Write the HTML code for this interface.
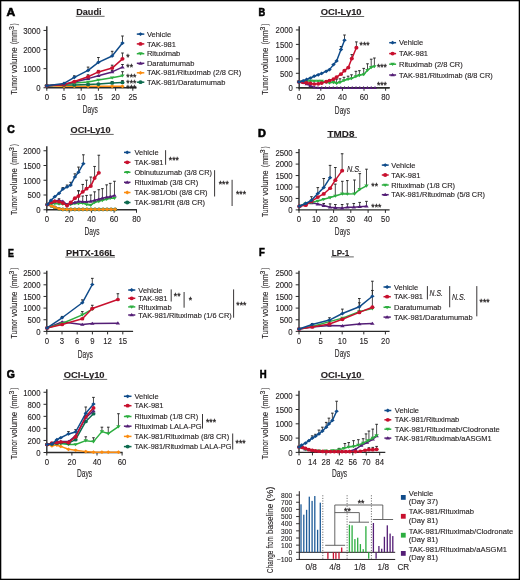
<!DOCTYPE html>
<html><head><meta charset="utf-8"><style>
html,body{margin:0;padding:0;background:#fff;}
svg{display:block;will-change:transform;}
text{font-family:"Liberation Sans", sans-serif;stroke:#231f20;stroke-width:0.12px;}
</style></head><body>
<svg width="520" height="580" viewBox="0 0 520 580">
<rect x="0.65" y="0.65" width="518.7" height="578.7" fill="#fff" stroke="#000" stroke-width="1.3"/>
<text x="6.60" y="15.90" font-size="11.2" text-anchor="start" font-weight="bold" font-style="normal" fill="#000" textLength="8.70" lengthAdjust="spacingAndGlyphs" style="stroke:#000;stroke-width:0.6px">A</text>
<text x="76.20" y="15.40" font-size="9.0" text-anchor="start" font-weight="bold" font-style="normal" fill="#231f20" textLength="25.30" lengthAdjust="spacingAndGlyphs" >Daudi</text>
<line x1="75.80" y1="16.30" x2="104.60" y2="16.30" stroke="#555" stroke-width="0.9" />
<line x1="46.80" y1="26.20" x2="46.80" y2="88.45" stroke="#2b2b2b" stroke-width="1.4" />
<line x1="46.10" y1="87.75" x2="136.60" y2="87.75" stroke="#2b2b2b" stroke-width="1.4" />
<line x1="43.50" y1="87.75" x2="46.80" y2="87.75" stroke="#2b2b2b" stroke-width="1.0" />
<text x="40.50" y="91.05" font-size="8.6" text-anchor="end" font-weight="normal" font-style="normal" fill="#231f20" textLength="4.33" lengthAdjust="spacingAndGlyphs" >0</text>
<line x1="43.50" y1="68.65" x2="46.80" y2="68.65" stroke="#2b2b2b" stroke-width="1.0" />
<text x="40.50" y="71.95" font-size="8.6" text-anchor="end" font-weight="normal" font-style="normal" fill="#231f20" textLength="17.32" lengthAdjust="spacingAndGlyphs" >1000</text>
<line x1="43.50" y1="49.55" x2="46.80" y2="49.55" stroke="#2b2b2b" stroke-width="1.0" />
<text x="40.50" y="52.85" font-size="8.6" text-anchor="end" font-weight="normal" font-style="normal" fill="#231f20" textLength="17.32" lengthAdjust="spacingAndGlyphs" >2000</text>
<line x1="43.50" y1="30.45" x2="46.80" y2="30.45" stroke="#2b2b2b" stroke-width="1.0" />
<text x="40.50" y="33.75" font-size="8.6" text-anchor="end" font-weight="normal" font-style="normal" fill="#231f20" textLength="17.32" lengthAdjust="spacingAndGlyphs" >3000</text>
<line x1="46.80" y1="87.75" x2="46.80" y2="90.75" stroke="#2b2b2b" stroke-width="1.0" />
<text x="46.80" y="100.05" font-size="8.6" text-anchor="middle" font-weight="normal" font-style="normal" fill="#231f20" textLength="4.33" lengthAdjust="spacingAndGlyphs" >0</text>
<line x1="64.00" y1="87.75" x2="64.00" y2="90.75" stroke="#2b2b2b" stroke-width="1.0" />
<text x="64.00" y="100.05" font-size="8.6" text-anchor="middle" font-weight="normal" font-style="normal" fill="#231f20" textLength="4.33" lengthAdjust="spacingAndGlyphs" >5</text>
<line x1="81.20" y1="87.75" x2="81.20" y2="90.75" stroke="#2b2b2b" stroke-width="1.0" />
<text x="81.20" y="100.05" font-size="8.6" text-anchor="middle" font-weight="normal" font-style="normal" fill="#231f20" textLength="8.66" lengthAdjust="spacingAndGlyphs" >10</text>
<line x1="98.40" y1="87.75" x2="98.40" y2="90.75" stroke="#2b2b2b" stroke-width="1.0" />
<text x="98.40" y="100.05" font-size="8.6" text-anchor="middle" font-weight="normal" font-style="normal" fill="#231f20" textLength="8.66" lengthAdjust="spacingAndGlyphs" >15</text>
<line x1="115.60" y1="87.75" x2="115.60" y2="90.75" stroke="#2b2b2b" stroke-width="1.0" />
<text x="115.60" y="100.05" font-size="8.6" text-anchor="middle" font-weight="normal" font-style="normal" fill="#231f20" textLength="8.66" lengthAdjust="spacingAndGlyphs" >20</text>
<line x1="132.80" y1="87.75" x2="132.80" y2="90.75" stroke="#2b2b2b" stroke-width="1.0" />
<text x="132.80" y="100.05" font-size="8.6" text-anchor="middle" font-weight="normal" font-style="normal" fill="#231f20" textLength="8.66" lengthAdjust="spacingAndGlyphs" >25</text>
<text transform="translate(17.00,94.60) rotate(-90)" font-size="9.4" fill="#231f20" textLength="19.57" lengthAdjust="spacingAndGlyphs">Tumor</text>
<text transform="translate(17.00,73.13) rotate(-90)" font-size="9.4" fill="#231f20" textLength="25.76" lengthAdjust="spacingAndGlyphs">volume</text>
<text transform="translate(17.00,44.27) rotate(-90)" font-size="9.4" fill="#231f20" textLength="14.18" lengthAdjust="spacingAndGlyphs">(mm</text>
<text transform="translate(13.80,30.09) rotate(-90)" font-size="7.0" fill="#231f20" textLength="3.90" lengthAdjust="spacingAndGlyphs">3</text>
<text transform="translate(17.00,25.20) rotate(-90)" font-size="9.4" fill="#231f20" textLength="1.80" lengthAdjust="spacingAndGlyphs">)</text>
<text x="90.30" y="113.00" font-size="10.2" text-anchor="middle" font-weight="normal" font-style="normal" fill="#231f20" textLength="15.10" lengthAdjust="spacingAndGlyphs" >Days</text>
<polyline points="46.80,85.77 64.00,86.35 74.32,86.35 88.08,86.35 98.40,86.35 112.16,86.35 122.48,86.35" fill="none" stroke="#fb8c10" stroke-width="1.5" stroke-linejoin="round"/>
<path d="M44.58,85.77 L46.80,83.92 L49.02,85.77 L46.80,87.62Z" fill="#fb8c10"/>
<path d="M61.78,86.35 L64.00,84.50 L66.22,86.35 L64.00,88.20Z" fill="#fb8c10"/>
<path d="M72.10,86.35 L74.32,84.50 L76.54,86.35 L74.32,88.20Z" fill="#fb8c10"/>
<path d="M85.86,86.35 L88.08,84.50 L90.30,86.35 L88.08,88.20Z" fill="#fb8c10"/>
<path d="M96.18,86.35 L98.40,84.50 L100.62,86.35 L98.40,88.20Z" fill="#fb8c10"/>
<path d="M109.94,86.35 L112.16,84.50 L114.38,86.35 L112.16,88.20Z" fill="#fb8c10"/>
<path d="M120.26,86.35 L122.48,84.50 L124.70,86.35 L122.48,88.20Z" fill="#fb8c10"/>
<line x1="112.16" y1="81.50" x2="112.16" y2="82.88" stroke="#2a2a2a" stroke-width="0.85" />
<line x1="110.86" y1="81.50" x2="113.46" y2="81.50" stroke="#2a2a2a" stroke-width="1.0" />
<line x1="122.48" y1="80.60" x2="122.48" y2="82.50" stroke="#2a2a2a" stroke-width="0.85" />
<line x1="121.18" y1="80.60" x2="123.78" y2="80.60" stroke="#2a2a2a" stroke-width="1.0" />
<polyline points="46.80,85.77 64.00,85.00 74.32,85.00 88.08,84.42 98.40,84.04 112.16,82.88 122.48,82.50" fill="none" stroke="#0d6b4f" stroke-width="1.5" stroke-linejoin="round"/>
<ellipse cx="46.80" cy="85.77" rx="2.04" ry="1.85" fill="#0d6b4f"/>
<ellipse cx="64.00" cy="85.00" rx="2.04" ry="1.85" fill="#0d6b4f"/>
<ellipse cx="74.32" cy="85.00" rx="2.04" ry="1.85" fill="#0d6b4f"/>
<ellipse cx="88.08" cy="84.42" rx="2.04" ry="1.85" fill="#0d6b4f"/>
<ellipse cx="98.40" cy="84.04" rx="2.04" ry="1.85" fill="#0d6b4f"/>
<ellipse cx="112.16" cy="82.88" rx="2.04" ry="1.85" fill="#0d6b4f"/>
<ellipse cx="122.48" cy="82.50" rx="2.04" ry="1.85" fill="#0d6b4f"/>
<line x1="122.48" y1="71.70" x2="122.48" y2="75.77" stroke="#2a2a2a" stroke-width="0.85" />
<line x1="121.18" y1="71.70" x2="123.78" y2="71.70" stroke="#2a2a2a" stroke-width="1.0" />
<polyline points="46.80,85.77 64.00,84.42 74.32,83.08 88.08,81.92 98.40,80.00 112.16,77.69 122.48,75.77" fill="none" stroke="#2dae40" stroke-width="1.5" stroke-linejoin="round"/>
<path d="M44.58,84.47 L49.02,84.47 L46.80,87.62Z" fill="#2dae40"/>
<path d="M61.78,83.13 L66.22,83.13 L64.00,86.27Z" fill="#2dae40"/>
<path d="M72.10,81.78 L76.54,81.78 L74.32,84.93Z" fill="#2dae40"/>
<path d="M85.86,80.63 L90.30,80.63 L88.08,83.77Z" fill="#2dae40"/>
<path d="M96.18,78.70 L100.62,78.70 L98.40,81.85Z" fill="#2dae40"/>
<path d="M109.94,76.40 L114.38,76.40 L112.16,79.54Z" fill="#2dae40"/>
<path d="M120.26,74.47 L124.70,74.47 L122.48,77.62Z" fill="#2dae40"/>
<line x1="112.16" y1="70.40" x2="112.16" y2="71.92" stroke="#2a2a2a" stroke-width="0.85" />
<line x1="110.86" y1="70.40" x2="113.46" y2="70.40" stroke="#2a2a2a" stroke-width="1.0" />
<line x1="122.48" y1="64.50" x2="122.48" y2="67.12" stroke="#2a2a2a" stroke-width="0.85" />
<line x1="121.18" y1="64.50" x2="123.78" y2="64.50" stroke="#2a2a2a" stroke-width="1.0" />
<polyline points="46.80,85.77 64.00,84.42 74.32,81.92 88.08,78.65 98.40,75.77 112.16,71.92 122.48,67.12" fill="none" stroke="#541e76" stroke-width="1.5" stroke-linejoin="round"/>
<path d="M44.58,87.06 L49.02,87.06 L46.80,83.92Z" fill="#541e76"/>
<path d="M61.78,85.72 L66.22,85.72 L64.00,82.57Z" fill="#541e76"/>
<path d="M72.10,83.22 L76.54,83.22 L74.32,80.07Z" fill="#541e76"/>
<path d="M85.86,79.95 L90.30,79.95 L88.08,76.80Z" fill="#541e76"/>
<path d="M96.18,77.06 L100.62,77.06 L98.40,73.92Z" fill="#541e76"/>
<path d="M109.94,73.22 L114.38,73.22 L112.16,70.07Z" fill="#541e76"/>
<path d="M120.26,68.41 L124.70,68.41 L122.48,65.27Z" fill="#541e76"/>
<line x1="88.08" y1="74.80" x2="88.08" y2="76.73" stroke="#2a2a2a" stroke-width="0.85" />
<line x1="86.78" y1="74.80" x2="89.38" y2="74.80" stroke="#2a2a2a" stroke-width="1.0" />
<line x1="98.40" y1="70.40" x2="98.40" y2="71.92" stroke="#2a2a2a" stroke-width="0.85" />
<line x1="97.10" y1="70.40" x2="99.70" y2="70.40" stroke="#2a2a2a" stroke-width="1.0" />
<line x1="112.16" y1="65.20" x2="112.16" y2="68.08" stroke="#2a2a2a" stroke-width="0.85" />
<line x1="110.86" y1="65.20" x2="113.46" y2="65.20" stroke="#2a2a2a" stroke-width="1.0" />
<line x1="122.48" y1="53.00" x2="122.48" y2="58.85" stroke="#2a2a2a" stroke-width="0.85" />
<line x1="121.18" y1="53.00" x2="123.78" y2="53.00" stroke="#2a2a2a" stroke-width="1.0" />
<polyline points="46.80,85.77 64.00,84.42 74.32,81.54 88.08,76.73 98.40,71.92 112.16,68.08 122.48,58.85" fill="none" stroke="#c8102e" stroke-width="1.5" stroke-linejoin="round"/>
<ellipse cx="46.80" cy="85.77" rx="2.04" ry="1.85" fill="#c8102e"/>
<ellipse cx="64.00" cy="84.42" rx="2.04" ry="1.85" fill="#c8102e"/>
<ellipse cx="74.32" cy="81.54" rx="2.04" ry="1.85" fill="#c8102e"/>
<ellipse cx="88.08" cy="76.73" rx="2.04" ry="1.85" fill="#c8102e"/>
<ellipse cx="98.40" cy="71.92" rx="2.04" ry="1.85" fill="#c8102e"/>
<ellipse cx="112.16" cy="68.08" rx="2.04" ry="1.85" fill="#c8102e"/>
<ellipse cx="122.48" cy="58.85" rx="2.04" ry="1.85" fill="#c8102e"/>
<line x1="74.32" y1="75.80" x2="74.32" y2="77.31" stroke="#2a2a2a" stroke-width="0.85" />
<line x1="73.02" y1="75.80" x2="75.62" y2="75.80" stroke="#2a2a2a" stroke-width="1.0" />
<line x1="88.08" y1="67.10" x2="88.08" y2="70.38" stroke="#2a2a2a" stroke-width="0.85" />
<line x1="86.78" y1="67.10" x2="89.38" y2="67.10" stroke="#2a2a2a" stroke-width="1.0" />
<line x1="98.40" y1="57.50" x2="98.40" y2="62.31" stroke="#2a2a2a" stroke-width="0.85" />
<line x1="97.10" y1="57.50" x2="99.70" y2="57.50" stroke="#2a2a2a" stroke-width="1.0" />
<line x1="112.16" y1="51.30" x2="112.16" y2="55.96" stroke="#2a2a2a" stroke-width="0.85" />
<line x1="110.86" y1="51.30" x2="113.46" y2="51.30" stroke="#2a2a2a" stroke-width="1.0" />
<line x1="122.48" y1="36.00" x2="122.48" y2="43.08" stroke="#2a2a2a" stroke-width="0.85" />
<line x1="121.18" y1="36.00" x2="123.78" y2="36.00" stroke="#2a2a2a" stroke-width="1.0" />
<polyline points="46.80,85.77 64.00,83.46 74.32,77.31 88.08,70.38 98.40,62.31 112.16,55.96 122.48,43.08" fill="none" stroke="#0f4b8a" stroke-width="1.5" stroke-linejoin="round"/>
<path d="M44.58,85.77 L46.80,83.92 L49.02,85.77 L46.80,87.62Z" fill="#0f4b8a"/>
<path d="M61.78,83.46 L64.00,81.61 L66.22,83.46 L64.00,85.31Z" fill="#0f4b8a"/>
<path d="M72.10,77.31 L74.32,75.46 L76.54,77.31 L74.32,79.16Z" fill="#0f4b8a"/>
<path d="M85.86,70.38 L88.08,68.53 L90.30,70.38 L88.08,72.23Z" fill="#0f4b8a"/>
<path d="M96.18,62.31 L98.40,60.46 L100.62,62.31 L98.40,64.16Z" fill="#0f4b8a"/>
<path d="M109.94,55.96 L112.16,54.11 L114.38,55.96 L112.16,57.81Z" fill="#0f4b8a"/>
<path d="M120.26,43.08 L122.48,41.23 L124.70,43.08 L122.48,44.93Z" fill="#0f4b8a"/>
<text x="126.30" y="60.47" font-size="8.6" text-anchor="start" font-weight="normal" font-style="normal" fill="#231f20" style="stroke-width:0.28px">*</text>
<text x="126.30" y="69.77" font-size="8.6" text-anchor="start" font-weight="normal" font-style="normal" fill="#231f20" style="stroke-width:0.28px">**</text>
<text x="126.30" y="79.77" font-size="8.6" text-anchor="start" font-weight="normal" font-style="normal" fill="#231f20" style="stroke-width:0.28px">***</text>
<text x="126.30" y="86.17" font-size="8.6" text-anchor="start" font-weight="normal" font-style="normal" fill="#231f20" style="stroke-width:0.28px">***</text>
<text x="126.30" y="91.27" font-size="8.6" text-anchor="start" font-weight="normal" font-style="normal" fill="#231f20" style="stroke-width:0.28px">***</text>
<line x1="136.80" y1="34.10" x2="144.30" y2="34.10" stroke="#0f4b8a" stroke-width="1.5" />
<path d="M138.22,34.10 L140.50,32.20 L142.78,34.10 L140.50,36.00Z" fill="#0f4b8a"/>
<text x="146.90" y="36.70" font-size="7.5" text-anchor="start" font-weight="normal" font-style="normal" fill="#231f20" >Vehicle</text>
<line x1="136.80" y1="43.90" x2="144.30" y2="43.90" stroke="#c8102e" stroke-width="1.5" />
<ellipse cx="140.50" cy="43.90" rx="2.09" ry="1.90" fill="#c8102e"/>
<text x="146.90" y="46.50" font-size="7.5" text-anchor="start" font-weight="normal" font-style="normal" fill="#231f20" >TAK-981</text>
<line x1="136.80" y1="53.70" x2="144.30" y2="53.70" stroke="#2dae40" stroke-width="1.5" />
<path d="M138.22,52.37 L142.78,52.37 L140.50,55.60Z" fill="#2dae40"/>
<text x="146.90" y="56.30" font-size="7.5" text-anchor="start" font-weight="normal" font-style="normal" fill="#231f20" >Rituximab</text>
<line x1="136.80" y1="63.30" x2="144.30" y2="63.30" stroke="#541e76" stroke-width="1.5" />
<path d="M138.22,64.63 L142.78,64.63 L140.50,61.40Z" fill="#541e76"/>
<text x="146.90" y="65.90" font-size="7.5" text-anchor="start" font-weight="normal" font-style="normal" fill="#231f20" >Daratumumab</text>
<line x1="136.80" y1="72.80" x2="144.30" y2="72.80" stroke="#fb8c10" stroke-width="1.5" />
<path d="M138.22,72.80 L140.50,70.90 L142.78,72.80 L140.50,74.70Z" fill="#fb8c10"/>
<text x="146.90" y="75.40" font-size="7.5" text-anchor="start" font-weight="normal" font-style="normal" fill="#231f20" textLength="94.30" lengthAdjust="spacingAndGlyphs" >TAK-981/Rituximab (2/8 CR)</text>
<line x1="136.80" y1="82.20" x2="144.30" y2="82.20" stroke="#0d6b4f" stroke-width="1.5" />
<ellipse cx="140.50" cy="82.20" rx="2.09" ry="1.90" fill="#0d6b4f"/>
<text x="146.90" y="84.80" font-size="7.5" text-anchor="start" font-weight="normal" font-style="normal" fill="#231f20" textLength="78.50" lengthAdjust="spacingAndGlyphs" >TAK-981/Daratumumab</text>
<text x="258.60" y="15.50" font-size="11.2" text-anchor="start" font-weight="bold" font-style="normal" fill="#000" textLength="6.70" lengthAdjust="spacingAndGlyphs" style="stroke:#000;stroke-width:0.6px">B</text>
<text x="320.80" y="15.10" font-size="9.0" text-anchor="start" font-weight="bold" font-style="normal" fill="#231f20" textLength="40.80" lengthAdjust="spacingAndGlyphs" >OCI-Ly10</text>
<line x1="320.10" y1="16.50" x2="364.20" y2="16.50" stroke="#555" stroke-width="0.9" />
<line x1="299.20" y1="26.30" x2="299.20" y2="88.45" stroke="#2b2b2b" stroke-width="1.4" />
<line x1="298.50" y1="87.75" x2="389.60" y2="87.75" stroke="#2b2b2b" stroke-width="1.4" />
<line x1="295.90" y1="87.75" x2="299.20" y2="87.75" stroke="#2b2b2b" stroke-width="1.0" />
<text x="292.90" y="91.05" font-size="8.6" text-anchor="end" font-weight="normal" font-style="normal" fill="#231f20" textLength="4.33" lengthAdjust="spacingAndGlyphs" >0</text>
<line x1="295.90" y1="73.30" x2="299.20" y2="73.30" stroke="#2b2b2b" stroke-width="1.0" />
<text x="292.90" y="76.60" font-size="8.6" text-anchor="end" font-weight="normal" font-style="normal" fill="#231f20" textLength="12.99" lengthAdjust="spacingAndGlyphs" >500</text>
<line x1="295.90" y1="58.85" x2="299.20" y2="58.85" stroke="#2b2b2b" stroke-width="1.0" />
<text x="292.90" y="62.15" font-size="8.6" text-anchor="end" font-weight="normal" font-style="normal" fill="#231f20" textLength="17.32" lengthAdjust="spacingAndGlyphs" >1000</text>
<line x1="295.90" y1="44.40" x2="299.20" y2="44.40" stroke="#2b2b2b" stroke-width="1.0" />
<text x="292.90" y="47.70" font-size="8.6" text-anchor="end" font-weight="normal" font-style="normal" fill="#231f20" textLength="17.32" lengthAdjust="spacingAndGlyphs" >1500</text>
<line x1="295.90" y1="29.95" x2="299.20" y2="29.95" stroke="#2b2b2b" stroke-width="1.0" />
<text x="292.90" y="33.25" font-size="8.6" text-anchor="end" font-weight="normal" font-style="normal" fill="#231f20" textLength="17.32" lengthAdjust="spacingAndGlyphs" >2000</text>
<line x1="299.20" y1="87.75" x2="299.20" y2="90.75" stroke="#2b2b2b" stroke-width="1.0" />
<text x="299.20" y="100.05" font-size="8.6" text-anchor="middle" font-weight="normal" font-style="normal" fill="#231f20" textLength="4.33" lengthAdjust="spacingAndGlyphs" >0</text>
<line x1="320.80" y1="87.75" x2="320.80" y2="90.75" stroke="#2b2b2b" stroke-width="1.0" />
<text x="320.80" y="100.05" font-size="8.6" text-anchor="middle" font-weight="normal" font-style="normal" fill="#231f20" textLength="8.66" lengthAdjust="spacingAndGlyphs" >20</text>
<line x1="342.40" y1="87.75" x2="342.40" y2="90.75" stroke="#2b2b2b" stroke-width="1.0" />
<text x="342.40" y="100.05" font-size="8.6" text-anchor="middle" font-weight="normal" font-style="normal" fill="#231f20" textLength="8.66" lengthAdjust="spacingAndGlyphs" >40</text>
<line x1="364.00" y1="87.75" x2="364.00" y2="90.75" stroke="#2b2b2b" stroke-width="1.0" />
<text x="364.00" y="100.05" font-size="8.6" text-anchor="middle" font-weight="normal" font-style="normal" fill="#231f20" textLength="8.66" lengthAdjust="spacingAndGlyphs" >60</text>
<line x1="385.60" y1="87.75" x2="385.60" y2="90.75" stroke="#2b2b2b" stroke-width="1.0" />
<text x="385.60" y="100.05" font-size="8.6" text-anchor="middle" font-weight="normal" font-style="normal" fill="#231f20" textLength="8.66" lengthAdjust="spacingAndGlyphs" >80</text>
<text transform="translate(268.00,94.70) rotate(-90)" font-size="9.4" fill="#231f20" textLength="19.49" lengthAdjust="spacingAndGlyphs">Tumor</text>
<text transform="translate(268.00,73.32) rotate(-90)" font-size="9.4" fill="#231f20" textLength="25.65" lengthAdjust="spacingAndGlyphs">volume</text>
<text transform="translate(268.00,44.58) rotate(-90)" font-size="9.4" fill="#231f20" textLength="14.12" lengthAdjust="spacingAndGlyphs">(mm</text>
<text transform="translate(264.80,30.46) rotate(-90)" font-size="7.0" fill="#231f20" textLength="3.88" lengthAdjust="spacingAndGlyphs">3</text>
<text transform="translate(268.00,25.59) rotate(-90)" font-size="9.4" fill="#231f20" textLength="1.79" lengthAdjust="spacingAndGlyphs">)</text>
<text x="342.40" y="113.60" font-size="10.2" text-anchor="middle" font-weight="normal" font-style="normal" fill="#231f20" textLength="15.10" lengthAdjust="spacingAndGlyphs" >Days</text>
<polyline points="298.90,81.90 303.20,82.80 306.60,84.00 310.40,85.70 314.20,87.30 318.00,87.75 321.80,87.75 325.60,87.75 329.40,87.75 333.20,87.75 337.00,87.75 340.80,87.75 344.60,87.75 348.40,87.75 352.20,87.75 356.00,87.75 359.80,87.75 363.60,87.75 367.40,87.75 371.20,87.75 375.00,87.75" fill="none" stroke="#541e76" stroke-width="1.4" stroke-linejoin="round"/>
<line x1="298.50" y1="87.75" x2="389.60" y2="87.75" stroke="#2b2b2b" stroke-width="1.4" />
<path d="M296.86,83.09 L300.94,83.09 L298.90,80.20Z" fill="#541e76"/>
<path d="M301.16,83.99 L305.24,83.99 L303.20,81.10Z" fill="#541e76"/>
<path d="M304.56,85.19 L308.64,85.19 L306.60,82.30Z" fill="#541e76"/>
<path d="M308.36,86.89 L312.44,86.89 L310.40,84.00Z" fill="#541e76"/>
<path d="M312.16,88.49 L316.24,88.49 L314.20,85.60Z" fill="#541e76"/>
<path d="M315.96,88.94 L320.04,88.94 L318.00,86.05Z" fill="#541e76"/>
<path d="M319.76,88.94 L323.84,88.94 L321.80,86.05Z" fill="#541e76"/>
<path d="M323.56,88.94 L327.64,88.94 L325.60,86.05Z" fill="#541e76"/>
<path d="M327.36,88.94 L331.44,88.94 L329.40,86.05Z" fill="#541e76"/>
<path d="M331.16,88.94 L335.24,88.94 L333.20,86.05Z" fill="#541e76"/>
<path d="M334.96,88.94 L339.04,88.94 L337.00,86.05Z" fill="#541e76"/>
<path d="M338.76,88.94 L342.84,88.94 L340.80,86.05Z" fill="#541e76"/>
<path d="M342.56,88.94 L346.64,88.94 L344.60,86.05Z" fill="#541e76"/>
<path d="M346.36,88.94 L350.44,88.94 L348.40,86.05Z" fill="#541e76"/>
<path d="M350.16,88.94 L354.24,88.94 L352.20,86.05Z" fill="#541e76"/>
<path d="M353.96,88.94 L358.04,88.94 L356.00,86.05Z" fill="#541e76"/>
<path d="M357.76,88.94 L361.84,88.94 L359.80,86.05Z" fill="#541e76"/>
<path d="M361.56,88.94 L365.64,88.94 L363.60,86.05Z" fill="#541e76"/>
<path d="M365.36,88.94 L369.44,88.94 L367.40,86.05Z" fill="#541e76"/>
<path d="M369.16,88.94 L373.24,88.94 L371.20,86.05Z" fill="#541e76"/>
<path d="M372.96,88.94 L377.04,88.94 L375.00,86.05Z" fill="#541e76"/>
<line x1="326.20" y1="80.50" x2="326.20" y2="82.30" stroke="#2a2a2a" stroke-width="0.85" />
<line x1="324.90" y1="80.50" x2="327.50" y2="80.50" stroke="#2a2a2a" stroke-width="1.0" />
<line x1="329.50" y1="80.30" x2="329.50" y2="82.80" stroke="#2a2a2a" stroke-width="0.85" />
<line x1="328.20" y1="80.30" x2="330.80" y2="80.30" stroke="#2a2a2a" stroke-width="1.0" />
<line x1="333.50" y1="79.60" x2="333.50" y2="82.30" stroke="#2a2a2a" stroke-width="0.85" />
<line x1="332.20" y1="79.60" x2="334.80" y2="79.60" stroke="#2a2a2a" stroke-width="1.0" />
<line x1="336.60" y1="79.20" x2="336.60" y2="83.40" stroke="#2a2a2a" stroke-width="0.85" />
<line x1="335.30" y1="79.20" x2="337.90" y2="79.20" stroke="#2a2a2a" stroke-width="1.0" />
<line x1="340.00" y1="78.80" x2="340.00" y2="82.30" stroke="#2a2a2a" stroke-width="0.85" />
<line x1="338.70" y1="78.80" x2="341.30" y2="78.80" stroke="#2a2a2a" stroke-width="1.0" />
<line x1="344.00" y1="77.30" x2="344.00" y2="80.50" stroke="#2a2a2a" stroke-width="0.85" />
<line x1="342.70" y1="77.30" x2="345.30" y2="77.30" stroke="#2a2a2a" stroke-width="1.0" />
<line x1="348.10" y1="76.20" x2="348.10" y2="79.20" stroke="#2a2a2a" stroke-width="0.85" />
<line x1="346.80" y1="76.20" x2="349.40" y2="76.20" stroke="#2a2a2a" stroke-width="1.0" />
<line x1="351.50" y1="74.80" x2="351.50" y2="78.50" stroke="#2a2a2a" stroke-width="0.85" />
<line x1="350.20" y1="74.80" x2="352.80" y2="74.80" stroke="#2a2a2a" stroke-width="1.0" />
<line x1="355.90" y1="71.30" x2="355.90" y2="76.50" stroke="#2a2a2a" stroke-width="0.85" />
<line x1="354.60" y1="71.30" x2="357.20" y2="71.30" stroke="#2a2a2a" stroke-width="1.0" />
<line x1="359.40" y1="70.70" x2="359.40" y2="75.30" stroke="#2a2a2a" stroke-width="0.85" />
<line x1="358.10" y1="70.70" x2="360.70" y2="70.70" stroke="#2a2a2a" stroke-width="1.0" />
<line x1="363.70" y1="68.40" x2="363.70" y2="74.50" stroke="#2a2a2a" stroke-width="0.85" />
<line x1="362.40" y1="68.40" x2="365.00" y2="68.40" stroke="#2a2a2a" stroke-width="1.0" />
<line x1="367.50" y1="63.80" x2="367.50" y2="70.20" stroke="#2a2a2a" stroke-width="0.85" />
<line x1="366.20" y1="63.80" x2="368.80" y2="63.80" stroke="#2a2a2a" stroke-width="1.0" />
<line x1="371.20" y1="59.20" x2="371.20" y2="67.30" stroke="#2a2a2a" stroke-width="0.85" />
<line x1="369.90" y1="59.20" x2="372.50" y2="59.20" stroke="#2a2a2a" stroke-width="1.0" />
<line x1="374.40" y1="58.00" x2="374.40" y2="66.50" stroke="#2a2a2a" stroke-width="0.85" />
<line x1="373.10" y1="58.00" x2="375.70" y2="58.00" stroke="#2a2a2a" stroke-width="1.0" />
<polyline points="298.90,81.90 303.20,81.60 306.60,81.20 310.40,80.80 314.20,81.10 318.20,81.10 321.60,81.10 326.20,82.30 329.50,82.80 333.50,82.30 336.60,83.40 340.00,82.30 344.00,80.50 348.10,79.20 351.50,78.50 355.90,76.50 359.40,75.30 363.70,74.50 367.50,70.20 371.20,67.30 374.40,66.50" fill="none" stroke="#2dae40" stroke-width="1.5" stroke-linejoin="round"/>
<path d="M296.68,80.61 L301.12,80.61 L298.90,83.75Z" fill="#2dae40"/>
<path d="M300.98,80.30 L305.42,80.30 L303.20,83.45Z" fill="#2dae40"/>
<path d="M304.38,79.91 L308.82,79.91 L306.60,83.05Z" fill="#2dae40"/>
<path d="M308.18,79.50 L312.62,79.50 L310.40,82.65Z" fill="#2dae40"/>
<path d="M311.98,79.80 L316.42,79.80 L314.20,82.95Z" fill="#2dae40"/>
<path d="M315.98,79.80 L320.42,79.80 L318.20,82.95Z" fill="#2dae40"/>
<path d="M319.38,79.80 L323.82,79.80 L321.60,82.95Z" fill="#2dae40"/>
<path d="M323.98,81.00 L328.42,81.00 L326.20,84.15Z" fill="#2dae40"/>
<path d="M327.28,81.50 L331.72,81.50 L329.50,84.65Z" fill="#2dae40"/>
<path d="M331.28,81.00 L335.72,81.00 L333.50,84.15Z" fill="#2dae40"/>
<path d="M334.38,82.11 L338.82,82.11 L336.60,85.25Z" fill="#2dae40"/>
<path d="M337.78,81.00 L342.22,81.00 L340.00,84.15Z" fill="#2dae40"/>
<path d="M341.78,79.20 L346.22,79.20 L344.00,82.35Z" fill="#2dae40"/>
<path d="M345.88,77.91 L350.32,77.91 L348.10,81.05Z" fill="#2dae40"/>
<path d="M349.28,77.20 L353.72,77.20 L351.50,80.35Z" fill="#2dae40"/>
<path d="M353.68,75.20 L358.12,75.20 L355.90,78.35Z" fill="#2dae40"/>
<path d="M357.18,74.00 L361.62,74.00 L359.40,77.15Z" fill="#2dae40"/>
<path d="M361.48,73.20 L365.92,73.20 L363.70,76.35Z" fill="#2dae40"/>
<path d="M365.28,68.91 L369.72,68.91 L367.50,72.05Z" fill="#2dae40"/>
<path d="M368.98,66.00 L373.42,66.00 L371.20,69.15Z" fill="#2dae40"/>
<path d="M372.18,65.20 L376.62,65.20 L374.40,68.35Z" fill="#2dae40"/>
<line x1="351.80" y1="54.60" x2="351.80" y2="58.60" stroke="#2a2a2a" stroke-width="0.85" />
<line x1="350.50" y1="54.60" x2="353.10" y2="54.60" stroke="#2a2a2a" stroke-width="1.0" />
<line x1="356.40" y1="41.90" x2="356.40" y2="47.70" stroke="#2a2a2a" stroke-width="0.85" />
<line x1="355.10" y1="41.90" x2="357.70" y2="41.90" stroke="#2a2a2a" stroke-width="1.0" />
<polyline points="298.90,81.90 303.20,82.30 306.60,82.80 310.40,83.40 314.20,84.00 318.20,83.80 321.60,83.10 326.20,81.70 329.50,80.50 333.50,79.20 336.60,77.10 340.90,74.20 344.40,70.70 348.30,67.60 351.80,58.60 356.40,47.70" fill="none" stroke="#c8102e" stroke-width="1.5" stroke-linejoin="round"/>
<ellipse cx="298.90" cy="81.90" rx="2.04" ry="1.85" fill="#c8102e"/>
<ellipse cx="303.20" cy="82.30" rx="2.04" ry="1.85" fill="#c8102e"/>
<ellipse cx="306.60" cy="82.80" rx="2.04" ry="1.85" fill="#c8102e"/>
<ellipse cx="310.40" cy="83.40" rx="2.04" ry="1.85" fill="#c8102e"/>
<ellipse cx="314.20" cy="84.00" rx="2.04" ry="1.85" fill="#c8102e"/>
<ellipse cx="318.20" cy="83.80" rx="2.04" ry="1.85" fill="#c8102e"/>
<ellipse cx="321.60" cy="83.10" rx="2.04" ry="1.85" fill="#c8102e"/>
<ellipse cx="326.20" cy="81.70" rx="2.04" ry="1.85" fill="#c8102e"/>
<ellipse cx="329.50" cy="80.50" rx="2.04" ry="1.85" fill="#c8102e"/>
<ellipse cx="333.50" cy="79.20" rx="2.04" ry="1.85" fill="#c8102e"/>
<ellipse cx="336.60" cy="77.10" rx="2.04" ry="1.85" fill="#c8102e"/>
<ellipse cx="340.90" cy="74.20" rx="2.04" ry="1.85" fill="#c8102e"/>
<ellipse cx="344.40" cy="70.70" rx="2.04" ry="1.85" fill="#c8102e"/>
<ellipse cx="348.30" cy="67.60" rx="2.04" ry="1.85" fill="#c8102e"/>
<ellipse cx="351.80" cy="58.60" rx="2.04" ry="1.85" fill="#c8102e"/>
<ellipse cx="356.40" cy="47.70" rx="2.04" ry="1.85" fill="#c8102e"/>
<line x1="341.00" y1="46.50" x2="341.00" y2="49.60" stroke="#2a2a2a" stroke-width="0.85" />
<line x1="339.70" y1="46.50" x2="342.30" y2="46.50" stroke="#2a2a2a" stroke-width="1.0" />
<line x1="344.50" y1="35.00" x2="344.50" y2="40.20" stroke="#2a2a2a" stroke-width="0.85" />
<line x1="343.20" y1="35.00" x2="345.80" y2="35.00" stroke="#2a2a2a" stroke-width="1.0" />
<polyline points="298.90,81.90 303.20,80.80 306.60,79.40 310.40,78.00 314.20,76.20 318.20,74.80 321.60,73.40 326.20,71.30 329.50,69.60 333.50,64.60 336.60,60.90 341.00,49.60 344.50,40.20" fill="none" stroke="#0f4b8a" stroke-width="1.5" stroke-linejoin="round"/>
<path d="M296.68,81.90 L298.90,80.05 L301.12,81.90 L298.90,83.75Z" fill="#0f4b8a"/>
<path d="M300.98,80.80 L303.20,78.95 L305.42,80.80 L303.20,82.65Z" fill="#0f4b8a"/>
<path d="M304.38,79.40 L306.60,77.55 L308.82,79.40 L306.60,81.25Z" fill="#0f4b8a"/>
<path d="M308.18,78.00 L310.40,76.15 L312.62,78.00 L310.40,79.85Z" fill="#0f4b8a"/>
<path d="M311.98,76.20 L314.20,74.35 L316.42,76.20 L314.20,78.05Z" fill="#0f4b8a"/>
<path d="M315.98,74.80 L318.20,72.95 L320.42,74.80 L318.20,76.65Z" fill="#0f4b8a"/>
<path d="M319.38,73.40 L321.60,71.55 L323.82,73.40 L321.60,75.25Z" fill="#0f4b8a"/>
<path d="M323.98,71.30 L326.20,69.45 L328.42,71.30 L326.20,73.15Z" fill="#0f4b8a"/>
<path d="M327.28,69.60 L329.50,67.75 L331.72,69.60 L329.50,71.45Z" fill="#0f4b8a"/>
<path d="M331.28,64.60 L333.50,62.75 L335.72,64.60 L333.50,66.45Z" fill="#0f4b8a"/>
<path d="M334.38,60.90 L336.60,59.05 L338.82,60.90 L336.60,62.75Z" fill="#0f4b8a"/>
<path d="M338.78,49.60 L341.00,47.75 L343.22,49.60 L341.00,51.45Z" fill="#0f4b8a"/>
<path d="M342.28,40.20 L344.50,38.35 L346.72,40.20 L344.50,42.05Z" fill="#0f4b8a"/>
<text x="359.60" y="48.27" font-size="8.6" text-anchor="start" font-weight="normal" font-style="normal" fill="#231f20" style="stroke-width:0.28px">***</text>
<text x="376.90" y="70.27" font-size="8.6" text-anchor="start" font-weight="normal" font-style="normal" fill="#231f20" style="stroke-width:0.28px">***</text>
<text x="376.90" y="87.87" font-size="8.6" text-anchor="start" font-weight="normal" font-style="normal" fill="#231f20" style="stroke-width:0.28px">***</text>
<line x1="389.20" y1="42.70" x2="396.10" y2="42.70" stroke="#0f4b8a" stroke-width="1.5" />
<path d="M390.32,42.70 L392.60,40.80 L394.88,42.70 L392.60,44.60Z" fill="#0f4b8a"/>
<text x="399.00" y="45.30" font-size="7.5" text-anchor="start" font-weight="normal" font-style="normal" fill="#231f20" >Vehicle</text>
<line x1="389.20" y1="53.60" x2="396.10" y2="53.60" stroke="#c8102e" stroke-width="1.5" />
<ellipse cx="392.60" cy="53.60" rx="2.09" ry="1.90" fill="#c8102e"/>
<text x="399.00" y="56.20" font-size="7.5" text-anchor="start" font-weight="normal" font-style="normal" fill="#231f20" >TAK-981</text>
<line x1="389.20" y1="64.20" x2="396.10" y2="64.20" stroke="#2dae40" stroke-width="1.5" />
<path d="M390.32,62.87 L394.88,62.87 L392.60,66.10Z" fill="#2dae40"/>
<text x="399.00" y="66.80" font-size="7.5" text-anchor="start" font-weight="normal" font-style="normal" fill="#231f20" >Rituximab (2/8 CR)</text>
<line x1="389.20" y1="75.00" x2="396.10" y2="75.00" stroke="#541e76" stroke-width="1.5" />
<path d="M390.32,76.33 L394.88,76.33 L392.60,73.10Z" fill="#541e76"/>
<text x="399.00" y="77.60" font-size="7.5" text-anchor="start" font-weight="normal" font-style="normal" fill="#231f20" textLength="93.70" lengthAdjust="spacingAndGlyphs" >TAK-981/Rituximab (8/8 CR)</text>
<text x="7.20" y="133.40" font-size="11.2" text-anchor="start" font-weight="bold" font-style="normal" fill="#000" textLength="7.50" lengthAdjust="spacingAndGlyphs" style="stroke:#000;stroke-width:0.6px">C</text>
<text x="70.60" y="133.00" font-size="9.0" text-anchor="start" font-weight="bold" font-style="normal" fill="#231f20" textLength="40.00" lengthAdjust="spacingAndGlyphs" >OCI-Ly10</text>
<line x1="70.10" y1="134.40" x2="113.70" y2="134.40" stroke="#555" stroke-width="0.9" />
<line x1="46.80" y1="146.30" x2="46.80" y2="210.45" stroke="#2b2b2b" stroke-width="1.4" />
<line x1="46.10" y1="209.75" x2="136.90" y2="209.75" stroke="#2b2b2b" stroke-width="1.4" />
<line x1="43.50" y1="209.75" x2="46.80" y2="209.75" stroke="#2b2b2b" stroke-width="1.0" />
<text x="40.50" y="213.05" font-size="8.6" text-anchor="end" font-weight="normal" font-style="normal" fill="#231f20" textLength="4.33" lengthAdjust="spacingAndGlyphs" >0</text>
<line x1="43.50" y1="195.00" x2="46.80" y2="195.00" stroke="#2b2b2b" stroke-width="1.0" />
<text x="40.50" y="198.30" font-size="8.6" text-anchor="end" font-weight="normal" font-style="normal" fill="#231f20" textLength="12.99" lengthAdjust="spacingAndGlyphs" >500</text>
<line x1="43.50" y1="180.25" x2="46.80" y2="180.25" stroke="#2b2b2b" stroke-width="1.0" />
<text x="40.50" y="183.55" font-size="8.6" text-anchor="end" font-weight="normal" font-style="normal" fill="#231f20" textLength="17.32" lengthAdjust="spacingAndGlyphs" >1000</text>
<line x1="43.50" y1="165.50" x2="46.80" y2="165.50" stroke="#2b2b2b" stroke-width="1.0" />
<text x="40.50" y="168.80" font-size="8.6" text-anchor="end" font-weight="normal" font-style="normal" fill="#231f20" textLength="17.32" lengthAdjust="spacingAndGlyphs" >1500</text>
<line x1="43.50" y1="150.75" x2="46.80" y2="150.75" stroke="#2b2b2b" stroke-width="1.0" />
<text x="40.50" y="154.05" font-size="8.6" text-anchor="end" font-weight="normal" font-style="normal" fill="#231f20" textLength="17.32" lengthAdjust="spacingAndGlyphs" >2000</text>
<line x1="46.80" y1="209.75" x2="46.80" y2="212.75" stroke="#2b2b2b" stroke-width="1.0" />
<text x="46.80" y="222.05" font-size="8.6" text-anchor="middle" font-weight="normal" font-style="normal" fill="#231f20" textLength="4.33" lengthAdjust="spacingAndGlyphs" >0</text>
<line x1="69.20" y1="209.75" x2="69.20" y2="212.75" stroke="#2b2b2b" stroke-width="1.0" />
<text x="69.20" y="222.05" font-size="8.6" text-anchor="middle" font-weight="normal" font-style="normal" fill="#231f20" textLength="8.66" lengthAdjust="spacingAndGlyphs" >20</text>
<line x1="91.60" y1="209.75" x2="91.60" y2="212.75" stroke="#2b2b2b" stroke-width="1.0" />
<text x="91.60" y="222.05" font-size="8.6" text-anchor="middle" font-weight="normal" font-style="normal" fill="#231f20" textLength="8.66" lengthAdjust="spacingAndGlyphs" >40</text>
<line x1="114.10" y1="209.75" x2="114.10" y2="212.75" stroke="#2b2b2b" stroke-width="1.0" />
<text x="114.10" y="222.05" font-size="8.6" text-anchor="middle" font-weight="normal" font-style="normal" fill="#231f20" textLength="8.66" lengthAdjust="spacingAndGlyphs" >60</text>
<line x1="136.50" y1="209.75" x2="136.50" y2="212.75" stroke="#2b2b2b" stroke-width="1.0" />
<text x="136.50" y="222.05" font-size="8.6" text-anchor="middle" font-weight="normal" font-style="normal" fill="#231f20" textLength="8.66" lengthAdjust="spacingAndGlyphs" >80</text>
<text transform="translate(17.00,215.00) rotate(-90)" font-size="9.4" fill="#231f20" textLength="19.44" lengthAdjust="spacingAndGlyphs">Tumor</text>
<text transform="translate(17.00,193.68) rotate(-90)" font-size="9.4" fill="#231f20" textLength="25.58" lengthAdjust="spacingAndGlyphs">volume</text>
<text transform="translate(17.00,165.02) rotate(-90)" font-size="9.4" fill="#231f20" textLength="14.08" lengthAdjust="spacingAndGlyphs">(mm</text>
<text transform="translate(13.80,150.94) rotate(-90)" font-size="7.0" fill="#231f20" textLength="3.87" lengthAdjust="spacingAndGlyphs">3</text>
<text transform="translate(17.00,146.08) rotate(-90)" font-size="9.4" fill="#231f20" textLength="1.79" lengthAdjust="spacingAndGlyphs">)</text>
<text x="92.10" y="234.60" font-size="10.2" text-anchor="middle" font-weight="normal" font-style="normal" fill="#231f20" textLength="15.10" lengthAdjust="spacingAndGlyphs" >Days</text>
<polyline points="47.40,204.52 51.64,206.00 54.81,207.27 59.04,208.75 62.85,209.39 66.87,209.39 70.89,209.39 74.91,209.39 78.93,209.39 82.94,209.39 86.96,209.39 90.98,209.39 95.00,209.39 99.02,209.39 103.04,209.39 107.06,209.39 111.08,209.39 115.10,209.39" fill="none" stroke="#0d6b4f" stroke-width="1.5" stroke-linejoin="round"/>
<ellipse cx="47.40" cy="204.52" rx="2.04" ry="1.85" fill="#0d6b4f"/>
<ellipse cx="51.64" cy="206.00" rx="2.04" ry="1.85" fill="#0d6b4f"/>
<ellipse cx="54.81" cy="207.27" rx="2.04" ry="1.85" fill="#0d6b4f"/>
<ellipse cx="59.04" cy="208.75" rx="2.04" ry="1.85" fill="#0d6b4f"/>
<ellipse cx="62.85" cy="209.39" rx="2.04" ry="1.85" fill="#0d6b4f"/>
<ellipse cx="66.87" cy="209.39" rx="2.04" ry="1.85" fill="#0d6b4f"/>
<ellipse cx="70.89" cy="209.39" rx="2.04" ry="1.85" fill="#0d6b4f"/>
<ellipse cx="74.91" cy="209.39" rx="2.04" ry="1.85" fill="#0d6b4f"/>
<ellipse cx="78.93" cy="209.39" rx="2.04" ry="1.85" fill="#0d6b4f"/>
<ellipse cx="82.94" cy="209.39" rx="2.04" ry="1.85" fill="#0d6b4f"/>
<ellipse cx="86.96" cy="209.39" rx="2.04" ry="1.85" fill="#0d6b4f"/>
<ellipse cx="90.98" cy="209.39" rx="2.04" ry="1.85" fill="#0d6b4f"/>
<ellipse cx="95.00" cy="209.39" rx="2.04" ry="1.85" fill="#0d6b4f"/>
<ellipse cx="99.02" cy="209.39" rx="2.04" ry="1.85" fill="#0d6b4f"/>
<ellipse cx="103.04" cy="209.39" rx="2.04" ry="1.85" fill="#0d6b4f"/>
<ellipse cx="107.06" cy="209.39" rx="2.04" ry="1.85" fill="#0d6b4f"/>
<ellipse cx="111.08" cy="209.39" rx="2.04" ry="1.85" fill="#0d6b4f"/>
<ellipse cx="115.10" cy="209.39" rx="2.04" ry="1.85" fill="#0d6b4f"/>
<polyline points="47.40,204.52 51.64,206.00 54.81,207.27 59.04,208.75 62.85,209.39 66.87,209.39 70.89,209.39 74.91,209.39 78.93,209.39 82.94,209.39 86.96,209.39 90.98,209.39 95.00,209.39 99.02,209.39 103.04,209.39 107.06,209.39 111.08,209.39 115.10,209.39" fill="none" stroke="#fb8c10" stroke-width="1.5" stroke-linejoin="round"/>
<path d="M45.18,204.52 L47.40,202.67 L49.62,204.52 L47.40,206.37Z" fill="#fb8c10"/>
<path d="M49.42,206.00 L51.64,204.15 L53.86,206.00 L51.64,207.85Z" fill="#fb8c10"/>
<path d="M52.59,207.27 L54.81,205.42 L57.03,207.27 L54.81,209.12Z" fill="#fb8c10"/>
<path d="M56.82,208.75 L59.04,206.90 L61.26,208.75 L59.04,210.60Z" fill="#fb8c10"/>
<path d="M60.63,209.39 L62.85,207.54 L65.07,209.39 L62.85,211.24Z" fill="#fb8c10"/>
<path d="M64.65,209.39 L66.87,207.54 L69.09,209.39 L66.87,211.24Z" fill="#fb8c10"/>
<path d="M68.67,209.39 L70.89,207.54 L73.11,209.39 L70.89,211.24Z" fill="#fb8c10"/>
<path d="M72.69,209.39 L74.91,207.54 L77.13,209.39 L74.91,211.24Z" fill="#fb8c10"/>
<path d="M76.71,209.39 L78.93,207.54 L81.15,209.39 L78.93,211.24Z" fill="#fb8c10"/>
<path d="M80.72,209.39 L82.94,207.54 L85.16,209.39 L82.94,211.24Z" fill="#fb8c10"/>
<path d="M84.74,209.39 L86.96,207.54 L89.18,209.39 L86.96,211.24Z" fill="#fb8c10"/>
<path d="M88.76,209.39 L90.98,207.54 L93.20,209.39 L90.98,211.24Z" fill="#fb8c10"/>
<path d="M92.78,209.39 L95.00,207.54 L97.22,209.39 L95.00,211.24Z" fill="#fb8c10"/>
<path d="M96.80,209.39 L99.02,207.54 L101.24,209.39 L99.02,211.24Z" fill="#fb8c10"/>
<path d="M100.82,209.39 L103.04,207.54 L105.26,209.39 L103.04,211.24Z" fill="#fb8c10"/>
<path d="M104.84,209.39 L107.06,207.54 L109.28,209.39 L107.06,211.24Z" fill="#fb8c10"/>
<path d="M108.86,209.39 L111.08,207.54 L113.30,209.39 L111.08,211.24Z" fill="#fb8c10"/>
<path d="M112.88,209.39 L115.10,207.54 L117.32,209.39 L115.10,211.24Z" fill="#fb8c10"/>
<polyline points="47.40,204.52 51.64,203.47 54.81,203.47 59.04,203.89 62.85,204.10 67.08,204.52 70.67,204.52 74.91,203.47 78.50,203.47 82.73,203.04 86.54,204.52 90.77,205.16 94.58,202.41 98.81,201.35 102.41,200.29 106.64,199.23 110.23,198.18 114.47,198.18" fill="none" stroke="#2dae40" stroke-width="1.5" stroke-linejoin="round"/>
<path d="M45.18,203.23 L49.62,203.23 L47.40,206.37Z" fill="#2dae40"/>
<path d="M49.42,202.17 L53.86,202.17 L51.64,205.32Z" fill="#2dae40"/>
<path d="M52.59,202.17 L57.03,202.17 L54.81,205.32Z" fill="#2dae40"/>
<path d="M56.82,202.59 L61.26,202.59 L59.04,205.74Z" fill="#2dae40"/>
<path d="M60.63,202.80 L65.07,202.80 L62.85,205.95Z" fill="#2dae40"/>
<path d="M64.86,203.23 L69.30,203.23 L67.08,206.37Z" fill="#2dae40"/>
<path d="M68.45,203.23 L72.89,203.23 L70.67,206.37Z" fill="#2dae40"/>
<path d="M72.69,202.17 L77.13,202.17 L74.91,205.32Z" fill="#2dae40"/>
<path d="M76.28,202.17 L80.72,202.17 L78.50,205.32Z" fill="#2dae40"/>
<path d="M80.51,201.75 L84.95,201.75 L82.73,204.89Z" fill="#2dae40"/>
<path d="M84.32,203.23 L88.76,203.23 L86.54,206.37Z" fill="#2dae40"/>
<path d="M88.55,203.86 L92.99,203.86 L90.77,207.01Z" fill="#2dae40"/>
<path d="M92.36,201.11 L96.80,201.11 L94.58,204.26Z" fill="#2dae40"/>
<path d="M96.59,200.05 L101.03,200.05 L98.81,203.20Z" fill="#2dae40"/>
<path d="M100.19,199.00 L104.63,199.00 L102.41,202.14Z" fill="#2dae40"/>
<path d="M104.42,197.94 L108.86,197.94 L106.64,201.08Z" fill="#2dae40"/>
<path d="M108.01,196.88 L112.45,196.88 L110.23,200.03Z" fill="#2dae40"/>
<path d="M112.25,196.88 L116.69,196.88 L114.47,200.03Z" fill="#2dae40"/>
<line x1="59.04" y1="198.81" x2="59.04" y2="200.29" stroke="#2a2a2a" stroke-width="0.85" />
<line x1="57.74" y1="198.81" x2="60.34" y2="198.81" stroke="#2a2a2a" stroke-width="1.0" />
<line x1="78.50" y1="190.77" x2="78.50" y2="201.35" stroke="#2a2a2a" stroke-width="0.85" />
<line x1="77.20" y1="190.77" x2="79.80" y2="190.77" stroke="#2a2a2a" stroke-width="1.0" />
<line x1="82.73" y1="196.06" x2="82.73" y2="201.77" stroke="#2a2a2a" stroke-width="0.85" />
<line x1="81.43" y1="196.06" x2="84.03" y2="196.06" stroke="#2a2a2a" stroke-width="1.0" />
<line x1="86.54" y1="195.43" x2="86.54" y2="201.77" stroke="#2a2a2a" stroke-width="0.85" />
<line x1="85.24" y1="195.43" x2="87.84" y2="195.43" stroke="#2a2a2a" stroke-width="1.0" />
<line x1="90.77" y1="195.00" x2="90.77" y2="201.35" stroke="#2a2a2a" stroke-width="0.85" />
<line x1="89.47" y1="195.00" x2="92.07" y2="195.00" stroke="#2a2a2a" stroke-width="1.0" />
<line x1="94.58" y1="191.83" x2="94.58" y2="200.29" stroke="#2a2a2a" stroke-width="0.85" />
<line x1="93.28" y1="191.83" x2="95.88" y2="191.83" stroke="#2a2a2a" stroke-width="1.0" />
<line x1="98.81" y1="189.71" x2="98.81" y2="199.23" stroke="#2a2a2a" stroke-width="0.85" />
<line x1="97.51" y1="189.71" x2="100.11" y2="189.71" stroke="#2a2a2a" stroke-width="1.0" />
<line x1="102.41" y1="188.66" x2="102.41" y2="198.18" stroke="#2a2a2a" stroke-width="0.85" />
<line x1="101.11" y1="188.66" x2="103.71" y2="188.66" stroke="#2a2a2a" stroke-width="1.0" />
<line x1="106.64" y1="184.85" x2="106.64" y2="197.12" stroke="#2a2a2a" stroke-width="0.85" />
<line x1="105.34" y1="184.85" x2="107.94" y2="184.85" stroke="#2a2a2a" stroke-width="1.0" />
<line x1="110.23" y1="183.37" x2="110.23" y2="196.70" stroke="#2a2a2a" stroke-width="0.85" />
<line x1="108.93" y1="183.37" x2="111.53" y2="183.37" stroke="#2a2a2a" stroke-width="1.0" />
<line x1="114.47" y1="181.25" x2="114.47" y2="195.43" stroke="#2a2a2a" stroke-width="0.85" />
<line x1="113.17" y1="181.25" x2="115.77" y2="181.25" stroke="#2a2a2a" stroke-width="1.0" />
<polyline points="47.40,204.52 51.64,202.41 54.81,200.93 59.04,200.29 62.85,201.35 67.08,204.52 70.67,203.47 74.91,202.41 78.50,201.35 82.73,201.77 86.54,201.77 90.77,201.35 94.58,200.29 98.81,199.23 102.41,198.18 106.64,197.12 110.23,196.70 114.47,195.43" fill="none" stroke="#541e76" stroke-width="1.5" stroke-linejoin="round"/>
<path d="M45.18,205.82 L49.62,205.82 L47.40,202.67Z" fill="#541e76"/>
<path d="M49.42,203.70 L53.86,203.70 L51.64,200.56Z" fill="#541e76"/>
<path d="M52.59,202.22 L57.03,202.22 L54.81,199.08Z" fill="#541e76"/>
<path d="M56.82,201.59 L61.26,201.59 L59.04,198.44Z" fill="#541e76"/>
<path d="M60.63,202.64 L65.07,202.64 L62.85,199.50Z" fill="#541e76"/>
<path d="M64.86,205.82 L69.30,205.82 L67.08,202.67Z" fill="#541e76"/>
<path d="M68.45,204.76 L72.89,204.76 L70.67,201.62Z" fill="#541e76"/>
<path d="M72.69,203.70 L77.13,203.70 L74.91,200.56Z" fill="#541e76"/>
<path d="M76.28,202.64 L80.72,202.64 L78.50,199.50Z" fill="#541e76"/>
<path d="M80.51,203.07 L84.95,203.07 L82.73,199.92Z" fill="#541e76"/>
<path d="M84.32,203.07 L88.76,203.07 L86.54,199.92Z" fill="#541e76"/>
<path d="M88.55,202.64 L92.99,202.64 L90.77,199.50Z" fill="#541e76"/>
<path d="M92.36,201.59 L96.80,201.59 L94.58,198.44Z" fill="#541e76"/>
<path d="M96.59,200.53 L101.03,200.53 L98.81,197.38Z" fill="#541e76"/>
<path d="M100.19,199.47 L104.63,199.47 L102.41,196.33Z" fill="#541e76"/>
<path d="M104.42,198.41 L108.86,198.41 L106.64,195.27Z" fill="#541e76"/>
<path d="M108.01,197.99 L112.45,197.99 L110.23,194.85Z" fill="#541e76"/>
<path d="M112.25,196.72 L116.69,196.72 L114.47,193.58Z" fill="#541e76"/>
<line x1="78.50" y1="190.77" x2="78.50" y2="196.06" stroke="#2a2a2a" stroke-width="0.85" />
<line x1="77.20" y1="190.77" x2="79.80" y2="190.77" stroke="#2a2a2a" stroke-width="1.0" />
<line x1="82.73" y1="184.43" x2="82.73" y2="191.83" stroke="#2a2a2a" stroke-width="0.85" />
<line x1="81.43" y1="184.43" x2="84.03" y2="184.43" stroke="#2a2a2a" stroke-width="1.0" />
<line x1="86.54" y1="180.19" x2="86.54" y2="188.66" stroke="#2a2a2a" stroke-width="0.85" />
<line x1="85.24" y1="180.19" x2="87.84" y2="180.19" stroke="#2a2a2a" stroke-width="1.0" />
<line x1="90.77" y1="177.02" x2="90.77" y2="186.12" stroke="#2a2a2a" stroke-width="0.85" />
<line x1="89.47" y1="177.02" x2="92.07" y2="177.02" stroke="#2a2a2a" stroke-width="1.0" />
<line x1="94.58" y1="166.44" x2="94.58" y2="178.08" stroke="#2a2a2a" stroke-width="0.85" />
<line x1="93.28" y1="166.44" x2="95.88" y2="166.44" stroke="#2a2a2a" stroke-width="1.0" />
<line x1="98.81" y1="155.23" x2="98.81" y2="172.79" stroke="#2a2a2a" stroke-width="0.85" />
<line x1="97.51" y1="155.23" x2="100.11" y2="155.23" stroke="#2a2a2a" stroke-width="1.0" />
<polyline points="47.40,204.52 51.00,202.41 54.81,201.35 59.04,201.77 62.85,203.04 67.08,205.58 70.67,202.41 74.91,198.18 78.50,196.06 82.73,191.83 86.54,188.66 90.77,186.12 94.58,178.08 98.81,172.79" fill="none" stroke="#c8102e" stroke-width="1.5" stroke-linejoin="round"/>
<ellipse cx="47.40" cy="204.52" rx="2.04" ry="1.85" fill="#c8102e"/>
<ellipse cx="51.00" cy="202.41" rx="2.04" ry="1.85" fill="#c8102e"/>
<ellipse cx="54.81" cy="201.35" rx="2.04" ry="1.85" fill="#c8102e"/>
<ellipse cx="59.04" cy="201.77" rx="2.04" ry="1.85" fill="#c8102e"/>
<ellipse cx="62.85" cy="203.04" rx="2.04" ry="1.85" fill="#c8102e"/>
<ellipse cx="67.08" cy="205.58" rx="2.04" ry="1.85" fill="#c8102e"/>
<ellipse cx="70.67" cy="202.41" rx="2.04" ry="1.85" fill="#c8102e"/>
<ellipse cx="74.91" cy="198.18" rx="2.04" ry="1.85" fill="#c8102e"/>
<ellipse cx="78.50" cy="196.06" rx="2.04" ry="1.85" fill="#c8102e"/>
<ellipse cx="82.73" cy="191.83" rx="2.04" ry="1.85" fill="#c8102e"/>
<ellipse cx="86.54" cy="188.66" rx="2.04" ry="1.85" fill="#c8102e"/>
<ellipse cx="90.77" cy="186.12" rx="2.04" ry="1.85" fill="#c8102e"/>
<ellipse cx="94.58" cy="178.08" rx="2.04" ry="1.85" fill="#c8102e"/>
<ellipse cx="98.81" cy="172.79" rx="2.04" ry="1.85" fill="#c8102e"/>
<line x1="62.85" y1="187.60" x2="62.85" y2="189.08" stroke="#2a2a2a" stroke-width="0.85" />
<line x1="61.55" y1="187.60" x2="64.15" y2="187.60" stroke="#2a2a2a" stroke-width="1.0" />
<line x1="67.08" y1="185.06" x2="67.08" y2="186.96" stroke="#2a2a2a" stroke-width="0.85" />
<line x1="65.78" y1="185.06" x2="68.38" y2="185.06" stroke="#2a2a2a" stroke-width="1.0" />
<line x1="70.67" y1="182.31" x2="70.67" y2="185.06" stroke="#2a2a2a" stroke-width="0.85" />
<line x1="69.37" y1="182.31" x2="71.97" y2="182.31" stroke="#2a2a2a" stroke-width="1.0" />
<line x1="74.91" y1="173.85" x2="74.91" y2="177.02" stroke="#2a2a2a" stroke-width="0.85" />
<line x1="73.61" y1="173.85" x2="76.21" y2="173.85" stroke="#2a2a2a" stroke-width="1.0" />
<line x1="78.50" y1="167.08" x2="78.50" y2="172.16" stroke="#2a2a2a" stroke-width="0.85" />
<line x1="77.20" y1="167.08" x2="79.80" y2="167.08" stroke="#2a2a2a" stroke-width="1.0" />
<line x1="83.37" y1="154.81" x2="83.37" y2="163.69" stroke="#2a2a2a" stroke-width="0.85" />
<line x1="82.07" y1="154.81" x2="84.67" y2="154.81" stroke="#2a2a2a" stroke-width="1.0" />
<polyline points="47.40,204.52 51.00,200.29 54.81,196.70 59.04,193.31 62.85,189.08 67.08,186.96 70.67,185.06 74.91,177.02 78.50,172.16 83.37,163.69" fill="none" stroke="#0f4b8a" stroke-width="1.5" stroke-linejoin="round"/>
<path d="M45.18,204.52 L47.40,202.67 L49.62,204.52 L47.40,206.37Z" fill="#0f4b8a"/>
<path d="M48.78,200.29 L51.00,198.44 L53.22,200.29 L51.00,202.14Z" fill="#0f4b8a"/>
<path d="M52.59,196.70 L54.81,194.85 L57.03,196.70 L54.81,198.55Z" fill="#0f4b8a"/>
<path d="M56.82,193.31 L59.04,191.46 L61.26,193.31 L59.04,195.16Z" fill="#0f4b8a"/>
<path d="M60.63,189.08 L62.85,187.23 L65.07,189.08 L62.85,190.93Z" fill="#0f4b8a"/>
<path d="M64.86,186.96 L67.08,185.11 L69.30,186.96 L67.08,188.81Z" fill="#0f4b8a"/>
<path d="M68.45,185.06 L70.67,183.21 L72.89,185.06 L70.67,186.91Z" fill="#0f4b8a"/>
<path d="M72.69,177.02 L74.91,175.17 L77.13,177.02 L74.91,178.87Z" fill="#0f4b8a"/>
<path d="M76.28,172.16 L78.50,170.31 L80.72,172.16 L78.50,174.01Z" fill="#0f4b8a"/>
<path d="M81.15,163.69 L83.37,161.84 L85.59,163.69 L83.37,165.54Z" fill="#0f4b8a"/>
<line x1="124.00" y1="152.40" x2="130.50" y2="152.40" stroke="#0f4b8a" stroke-width="1.5" />
<path d="M124.92,152.40 L127.20,150.50 L129.48,152.40 L127.20,154.30Z" fill="#0f4b8a"/>
<text x="134.40" y="155.00" font-size="7.5" text-anchor="start" font-weight="normal" font-style="normal" fill="#231f20" >Vehicle</text>
<line x1="124.00" y1="162.30" x2="130.50" y2="162.30" stroke="#c8102e" stroke-width="1.5" />
<ellipse cx="127.20" cy="162.30" rx="2.09" ry="1.90" fill="#c8102e"/>
<text x="134.40" y="164.90" font-size="7.5" text-anchor="start" font-weight="normal" font-style="normal" fill="#231f20" >TAK-981</text>
<line x1="124.00" y1="172.30" x2="130.50" y2="172.30" stroke="#2dae40" stroke-width="1.5" />
<path d="M124.92,170.97 L129.48,170.97 L127.20,174.20Z" fill="#2dae40"/>
<text x="134.40" y="174.90" font-size="7.5" text-anchor="start" font-weight="normal" font-style="normal" fill="#231f20" textLength="77.50" lengthAdjust="spacingAndGlyphs" >Obinutuzumab (3/8 CR)</text>
<line x1="124.00" y1="182.30" x2="130.50" y2="182.30" stroke="#541e76" stroke-width="1.5" />
<path d="M124.92,183.63 L129.48,183.63 L127.20,180.40Z" fill="#541e76"/>
<text x="134.40" y="184.90" font-size="7.5" text-anchor="start" font-weight="normal" font-style="normal" fill="#231f20" >Rituximab (3/8 CR)</text>
<line x1="124.00" y1="192.50" x2="130.50" y2="192.50" stroke="#fb8c10" stroke-width="1.5" />
<path d="M124.92,192.50 L127.20,190.60 L129.48,192.50 L127.20,194.40Z" fill="#fb8c10"/>
<text x="134.40" y="195.10" font-size="7.5" text-anchor="start" font-weight="normal" font-style="normal" fill="#231f20" >TAK-981/Obi (8/8 CR)</text>
<line x1="124.00" y1="202.50" x2="130.50" y2="202.50" stroke="#0d6b4f" stroke-width="1.5" />
<ellipse cx="127.20" cy="202.50" rx="2.09" ry="1.90" fill="#0d6b4f"/>
<text x="134.40" y="205.10" font-size="7.5" text-anchor="start" font-weight="normal" font-style="normal" fill="#231f20" >TAK-981/Rit (8/8 CR)</text>
<line x1="165.60" y1="150.20" x2="165.60" y2="164.80" stroke="#231f20" stroke-width="0.9" />
<text x="168.80" y="162.77" font-size="8.6" text-anchor="start" font-weight="normal" font-style="normal" fill="#231f20" style="stroke-width:0.28px">***</text>
<line x1="214.60" y1="170.20" x2="214.60" y2="196.50" stroke="#231f20" stroke-width="0.9" />
<text x="218.70" y="186.97" font-size="8.6" text-anchor="start" font-weight="normal" font-style="normal" fill="#231f20" style="stroke-width:0.28px">***</text>
<line x1="232.10" y1="179.80" x2="232.10" y2="206.00" stroke="#231f20" stroke-width="0.9" />
<text x="236.00" y="197.47" font-size="8.6" text-anchor="start" font-weight="normal" font-style="normal" fill="#231f20" style="stroke-width:0.28px">***</text>
<text x="258.00" y="136.70" font-size="11.2" text-anchor="start" font-weight="bold" font-style="normal" fill="#000" textLength="7.90" lengthAdjust="spacingAndGlyphs" style="stroke:#000;stroke-width:0.6px">D</text>
<text x="327.60" y="136.50" font-size="9.0" text-anchor="start" font-weight="bold" font-style="normal" fill="#231f20" textLength="26.80" lengthAdjust="spacingAndGlyphs" >TMD8</text>
<line x1="327.20" y1="137.40" x2="357.00" y2="137.40" stroke="#555" stroke-width="0.9" />
<line x1="299.00" y1="148.90" x2="299.00" y2="210.60" stroke="#2b2b2b" stroke-width="1.4" />
<line x1="298.30" y1="209.90" x2="389.60" y2="209.90" stroke="#2b2b2b" stroke-width="1.4" />
<line x1="295.70" y1="209.90" x2="299.00" y2="209.90" stroke="#2b2b2b" stroke-width="1.0" />
<text x="292.70" y="213.20" font-size="8.6" text-anchor="end" font-weight="normal" font-style="normal" fill="#231f20" textLength="4.33" lengthAdjust="spacingAndGlyphs" >0</text>
<line x1="295.70" y1="198.45" x2="299.00" y2="198.45" stroke="#2b2b2b" stroke-width="1.0" />
<text x="292.70" y="201.75" font-size="8.6" text-anchor="end" font-weight="normal" font-style="normal" fill="#231f20" textLength="12.99" lengthAdjust="spacingAndGlyphs" >500</text>
<line x1="295.70" y1="187.00" x2="299.00" y2="187.00" stroke="#2b2b2b" stroke-width="1.0" />
<text x="292.70" y="190.30" font-size="8.6" text-anchor="end" font-weight="normal" font-style="normal" fill="#231f20" textLength="17.32" lengthAdjust="spacingAndGlyphs" >1000</text>
<line x1="295.70" y1="175.55" x2="299.00" y2="175.55" stroke="#2b2b2b" stroke-width="1.0" />
<text x="292.70" y="178.85" font-size="8.6" text-anchor="end" font-weight="normal" font-style="normal" fill="#231f20" textLength="17.32" lengthAdjust="spacingAndGlyphs" >1500</text>
<line x1="295.70" y1="164.10" x2="299.00" y2="164.10" stroke="#2b2b2b" stroke-width="1.0" />
<text x="292.70" y="167.40" font-size="8.6" text-anchor="end" font-weight="normal" font-style="normal" fill="#231f20" textLength="17.32" lengthAdjust="spacingAndGlyphs" >2000</text>
<line x1="295.70" y1="152.65" x2="299.00" y2="152.65" stroke="#2b2b2b" stroke-width="1.0" />
<text x="292.70" y="155.95" font-size="8.6" text-anchor="end" font-weight="normal" font-style="normal" fill="#231f20" textLength="17.32" lengthAdjust="spacingAndGlyphs" >2500</text>
<line x1="299.00" y1="209.90" x2="299.00" y2="212.90" stroke="#2b2b2b" stroke-width="1.0" />
<text x="299.00" y="222.20" font-size="8.6" text-anchor="middle" font-weight="normal" font-style="normal" fill="#231f20" textLength="4.33" lengthAdjust="spacingAndGlyphs" >0</text>
<line x1="316.30" y1="209.90" x2="316.30" y2="212.90" stroke="#2b2b2b" stroke-width="1.0" />
<text x="316.30" y="222.20" font-size="8.6" text-anchor="middle" font-weight="normal" font-style="normal" fill="#231f20" textLength="8.66" lengthAdjust="spacingAndGlyphs" >10</text>
<line x1="333.60" y1="209.90" x2="333.60" y2="212.90" stroke="#2b2b2b" stroke-width="1.0" />
<text x="333.60" y="222.20" font-size="8.6" text-anchor="middle" font-weight="normal" font-style="normal" fill="#231f20" textLength="8.66" lengthAdjust="spacingAndGlyphs" >20</text>
<line x1="350.80" y1="209.90" x2="350.80" y2="212.90" stroke="#2b2b2b" stroke-width="1.0" />
<text x="350.80" y="222.20" font-size="8.6" text-anchor="middle" font-weight="normal" font-style="normal" fill="#231f20" textLength="8.66" lengthAdjust="spacingAndGlyphs" >30</text>
<line x1="368.10" y1="209.90" x2="368.10" y2="212.90" stroke="#2b2b2b" stroke-width="1.0" />
<text x="368.10" y="222.20" font-size="8.6" text-anchor="middle" font-weight="normal" font-style="normal" fill="#231f20" textLength="8.66" lengthAdjust="spacingAndGlyphs" >40</text>
<line x1="385.40" y1="209.90" x2="385.40" y2="212.90" stroke="#2b2b2b" stroke-width="1.0" />
<text x="385.40" y="222.20" font-size="8.6" text-anchor="middle" font-weight="normal" font-style="normal" fill="#231f20" textLength="8.66" lengthAdjust="spacingAndGlyphs" >50</text>
<text transform="translate(268.00,217.10) rotate(-90)" font-size="9.4" fill="#231f20" textLength="19.41" lengthAdjust="spacingAndGlyphs">Tumor</text>
<text transform="translate(268.00,195.81) rotate(-90)" font-size="9.4" fill="#231f20" textLength="25.55" lengthAdjust="spacingAndGlyphs">volume</text>
<text transform="translate(268.00,167.19) rotate(-90)" font-size="9.4" fill="#231f20" textLength="14.06" lengthAdjust="spacingAndGlyphs">(mm</text>
<text transform="translate(264.80,153.13) rotate(-90)" font-size="7.0" fill="#231f20" textLength="3.86" lengthAdjust="spacingAndGlyphs">3</text>
<text transform="translate(268.00,148.27) rotate(-90)" font-size="9.4" fill="#231f20" textLength="1.78" lengthAdjust="spacingAndGlyphs">)</text>
<text x="342.40" y="234.60" font-size="10.2" text-anchor="middle" font-weight="normal" font-style="normal" fill="#231f20" textLength="15.10" lengthAdjust="spacingAndGlyphs" >Days</text>
<line x1="323.73" y1="203.47" x2="323.73" y2="205.58" stroke="#2a2a2a" stroke-width="0.85" />
<line x1="322.43" y1="203.47" x2="325.03" y2="203.47" stroke="#2a2a2a" stroke-width="1.0" />
<line x1="330.08" y1="203.89" x2="330.08" y2="207.27" stroke="#2a2a2a" stroke-width="0.85" />
<line x1="328.78" y1="203.89" x2="331.38" y2="203.89" stroke="#2a2a2a" stroke-width="1.0" />
<line x1="335.37" y1="204.52" x2="335.37" y2="207.70" stroke="#2a2a2a" stroke-width="0.85" />
<line x1="334.07" y1="204.52" x2="336.67" y2="204.52" stroke="#2a2a2a" stroke-width="1.0" />
<line x1="342.14" y1="204.52" x2="342.14" y2="208.12" stroke="#2a2a2a" stroke-width="0.85" />
<line x1="340.84" y1="204.52" x2="343.44" y2="204.52" stroke="#2a2a2a" stroke-width="1.0" />
<line x1="347.43" y1="203.89" x2="347.43" y2="207.27" stroke="#2a2a2a" stroke-width="0.85" />
<line x1="346.13" y1="203.89" x2="348.73" y2="203.89" stroke="#2a2a2a" stroke-width="1.0" />
<line x1="353.77" y1="203.47" x2="353.77" y2="207.27" stroke="#2a2a2a" stroke-width="0.85" />
<line x1="352.47" y1="203.47" x2="355.07" y2="203.47" stroke="#2a2a2a" stroke-width="1.0" />
<line x1="359.70" y1="202.41" x2="359.70" y2="206.64" stroke="#2a2a2a" stroke-width="0.85" />
<line x1="358.40" y1="202.41" x2="361.00" y2="202.41" stroke="#2a2a2a" stroke-width="1.0" />
<line x1="366.47" y1="201.35" x2="366.47" y2="206.22" stroke="#2a2a2a" stroke-width="0.85" />
<line x1="365.17" y1="201.35" x2="367.77" y2="201.35" stroke="#2a2a2a" stroke-width="1.0" />
<polyline points="299.40,206.22 305.75,203.47 311.46,202.83 317.81,204.10 323.73,205.58 330.08,207.27 335.37,207.70 342.14,208.12 347.43,207.27 353.77,207.27 359.70,206.64 366.47,206.22" fill="none" stroke="#541e76" stroke-width="1.5" stroke-linejoin="round"/>
<path d="M297.18,207.51 L301.62,207.51 L299.40,204.37Z" fill="#541e76"/>
<path d="M303.53,204.76 L307.97,204.76 L305.75,201.62Z" fill="#541e76"/>
<path d="M309.24,204.13 L313.68,204.13 L311.46,200.98Z" fill="#541e76"/>
<path d="M315.59,205.39 L320.03,205.39 L317.81,202.25Z" fill="#541e76"/>
<path d="M321.51,206.88 L325.95,206.88 L323.73,203.73Z" fill="#541e76"/>
<path d="M327.86,208.57 L332.30,208.57 L330.08,205.42Z" fill="#541e76"/>
<path d="M333.15,208.99 L337.59,208.99 L335.37,205.85Z" fill="#541e76"/>
<path d="M339.92,209.41 L344.36,209.41 L342.14,206.27Z" fill="#541e76"/>
<path d="M345.21,208.57 L349.65,208.57 L347.43,205.42Z" fill="#541e76"/>
<path d="M351.55,208.57 L355.99,208.57 L353.77,205.42Z" fill="#541e76"/>
<path d="M357.48,207.93 L361.92,207.93 L359.70,204.79Z" fill="#541e76"/>
<path d="M364.25,207.51 L368.69,207.51 L366.47,204.37Z" fill="#541e76"/>
<line x1="335.30" y1="184.10" x2="335.30" y2="196.00" stroke="#2a2a2a" stroke-width="0.85" />
<line x1="334.00" y1="184.10" x2="336.60" y2="184.10" stroke="#2a2a2a" stroke-width="1.0" />
<line x1="342.30" y1="181.30" x2="342.30" y2="193.80" stroke="#2a2a2a" stroke-width="0.85" />
<line x1="341.00" y1="181.30" x2="343.60" y2="181.30" stroke="#2a2a2a" stroke-width="1.0" />
<line x1="347.30" y1="180.60" x2="347.30" y2="194.00" stroke="#2a2a2a" stroke-width="0.85" />
<line x1="346.00" y1="180.60" x2="348.60" y2="180.60" stroke="#2a2a2a" stroke-width="1.0" />
<line x1="354.50" y1="180.00" x2="354.50" y2="193.80" stroke="#2a2a2a" stroke-width="0.85" />
<line x1="353.20" y1="180.00" x2="355.80" y2="180.00" stroke="#2a2a2a" stroke-width="1.0" />
<line x1="359.80" y1="173.60" x2="359.80" y2="189.40" stroke="#2a2a2a" stroke-width="0.85" />
<line x1="358.50" y1="173.60" x2="361.10" y2="173.60" stroke="#2a2a2a" stroke-width="1.0" />
<line x1="366.50" y1="169.20" x2="366.50" y2="185.80" stroke="#2a2a2a" stroke-width="0.85" />
<line x1="365.20" y1="169.20" x2="367.80" y2="169.20" stroke="#2a2a2a" stroke-width="1.0" />
<polyline points="299.40,206.22 305.75,203.47 311.46,202.41 317.81,200.93 323.73,199.23 330.08,197.54 335.30,196.00 342.30,193.80 347.30,194.00 354.50,193.80 359.80,189.40 366.50,185.80" fill="none" stroke="#2dae40" stroke-width="1.5" stroke-linejoin="round"/>
<path d="M297.18,204.92 L301.62,204.92 L299.40,208.07Z" fill="#2dae40"/>
<path d="M303.53,202.17 L307.97,202.17 L305.75,205.32Z" fill="#2dae40"/>
<path d="M309.24,201.11 L313.68,201.11 L311.46,204.26Z" fill="#2dae40"/>
<path d="M315.59,199.63 L320.03,199.63 L317.81,202.78Z" fill="#2dae40"/>
<path d="M321.51,197.94 L325.95,197.94 L323.73,201.08Z" fill="#2dae40"/>
<path d="M327.86,196.25 L332.30,196.25 L330.08,199.39Z" fill="#2dae40"/>
<path d="M333.08,194.71 L337.52,194.71 L335.30,197.85Z" fill="#2dae40"/>
<path d="M340.08,192.51 L344.52,192.51 L342.30,195.65Z" fill="#2dae40"/>
<path d="M345.08,192.71 L349.52,192.71 L347.30,195.85Z" fill="#2dae40"/>
<path d="M352.28,192.51 L356.72,192.51 L354.50,195.65Z" fill="#2dae40"/>
<path d="M357.58,188.11 L362.02,188.11 L359.80,191.25Z" fill="#2dae40"/>
<path d="M364.28,184.51 L368.72,184.51 L366.50,187.65Z" fill="#2dae40"/>
<line x1="335.37" y1="167.50" x2="335.37" y2="180.19" stroke="#2a2a2a" stroke-width="0.85" />
<line x1="334.07" y1="167.50" x2="336.67" y2="167.50" stroke="#2a2a2a" stroke-width="1.0" />
<line x1="342.14" y1="153.75" x2="342.14" y2="170.67" stroke="#2a2a2a" stroke-width="0.85" />
<line x1="340.84" y1="153.75" x2="343.44" y2="153.75" stroke="#2a2a2a" stroke-width="1.0" />
<polyline points="299.40,206.22 305.75,205.16 311.46,201.35 317.81,197.12 323.73,193.95 330.08,188.23 335.37,180.19 342.14,170.67" fill="none" stroke="#c8102e" stroke-width="1.5" stroke-linejoin="round"/>
<ellipse cx="299.40" cy="206.22" rx="2.04" ry="1.85" fill="#c8102e"/>
<ellipse cx="305.75" cy="205.16" rx="2.04" ry="1.85" fill="#c8102e"/>
<ellipse cx="311.46" cy="201.35" rx="2.04" ry="1.85" fill="#c8102e"/>
<ellipse cx="317.81" cy="197.12" rx="2.04" ry="1.85" fill="#c8102e"/>
<ellipse cx="323.73" cy="193.95" rx="2.04" ry="1.85" fill="#c8102e"/>
<ellipse cx="330.08" cy="188.23" rx="2.04" ry="1.85" fill="#c8102e"/>
<ellipse cx="335.37" cy="180.19" rx="2.04" ry="1.85" fill="#c8102e"/>
<ellipse cx="342.14" cy="170.67" rx="2.04" ry="1.85" fill="#c8102e"/>
<line x1="311.46" y1="196.70" x2="311.46" y2="200.29" stroke="#2a2a2a" stroke-width="0.85" />
<line x1="310.16" y1="196.70" x2="312.76" y2="196.70" stroke="#2a2a2a" stroke-width="1.0" />
<line x1="317.81" y1="187.60" x2="317.81" y2="193.52" stroke="#2a2a2a" stroke-width="0.85" />
<line x1="316.51" y1="187.60" x2="319.11" y2="187.60" stroke="#2a2a2a" stroke-width="1.0" />
<line x1="323.73" y1="178.50" x2="323.73" y2="187.60" stroke="#2a2a2a" stroke-width="0.85" />
<line x1="322.43" y1="178.50" x2="325.03" y2="178.50" stroke="#2a2a2a" stroke-width="1.0" />
<line x1="330.08" y1="165.39" x2="330.08" y2="177.66" stroke="#2a2a2a" stroke-width="0.85" />
<line x1="328.78" y1="165.39" x2="331.38" y2="165.39" stroke="#2a2a2a" stroke-width="1.0" />
<polyline points="299.40,206.22 305.75,203.47 311.46,200.29 317.81,193.52 323.73,187.60 330.08,177.66" fill="none" stroke="#0f4b8a" stroke-width="1.5" stroke-linejoin="round"/>
<path d="M297.18,206.22 L299.40,204.37 L301.62,206.22 L299.40,208.07Z" fill="#0f4b8a"/>
<path d="M303.53,203.47 L305.75,201.62 L307.97,203.47 L305.75,205.32Z" fill="#0f4b8a"/>
<path d="M309.24,200.29 L311.46,198.44 L313.68,200.29 L311.46,202.14Z" fill="#0f4b8a"/>
<path d="M315.59,193.52 L317.81,191.67 L320.03,193.52 L317.81,195.37Z" fill="#0f4b8a"/>
<path d="M321.51,187.60 L323.73,185.75 L325.95,187.60 L323.73,189.45Z" fill="#0f4b8a"/>
<path d="M327.86,177.66 L330.08,175.81 L332.30,177.66 L330.08,179.51Z" fill="#0f4b8a"/>
<text x="346.90" y="172.20" font-size="8.6" text-anchor="start" font-weight="normal" font-style="italic" fill="#231f20" textLength="14.40" lengthAdjust="spacingAndGlyphs" >N.S.</text>
<text x="371.30" y="189.27" font-size="8.6" text-anchor="start" font-weight="normal" font-style="normal" fill="#231f20" style="stroke-width:0.28px">**</text>
<text x="371.30" y="210.47" font-size="8.6" text-anchor="start" font-weight="normal" font-style="normal" fill="#231f20" style="stroke-width:0.28px">***</text>
<line x1="381.80" y1="165.10" x2="388.70" y2="165.10" stroke="#0f4b8a" stroke-width="1.5" />
<path d="M382.92,165.10 L385.20,163.20 L387.48,165.10 L385.20,167.00Z" fill="#0f4b8a"/>
<text x="391.30" y="167.70" font-size="7.5" text-anchor="start" font-weight="normal" font-style="normal" fill="#231f20" >Vehicle</text>
<line x1="381.80" y1="175.00" x2="388.70" y2="175.00" stroke="#c8102e" stroke-width="1.5" />
<ellipse cx="385.20" cy="175.00" rx="2.09" ry="1.90" fill="#c8102e"/>
<text x="391.30" y="177.60" font-size="7.5" text-anchor="start" font-weight="normal" font-style="normal" fill="#231f20" >TAK-981</text>
<line x1="381.80" y1="185.00" x2="388.70" y2="185.00" stroke="#2dae40" stroke-width="1.5" />
<path d="M382.92,183.67 L387.48,183.67 L385.20,186.90Z" fill="#2dae40"/>
<text x="391.30" y="187.60" font-size="7.5" text-anchor="start" font-weight="normal" font-style="normal" fill="#231f20" >Rituximab (1/8 CR)</text>
<line x1="381.80" y1="194.70" x2="388.70" y2="194.70" stroke="#541e76" stroke-width="1.5" />
<path d="M382.92,196.03 L387.48,196.03 L385.20,192.80Z" fill="#541e76"/>
<text x="391.30" y="197.30" font-size="7.5" text-anchor="start" font-weight="normal" font-style="normal" fill="#231f20" textLength="93.70" lengthAdjust="spacingAndGlyphs" >TAK-981/Rituximab (5/8 CR)</text>
<text x="8.00" y="256.90" font-size="11.2" text-anchor="start" font-weight="bold" font-style="normal" fill="#000" textLength="5.90" lengthAdjust="spacingAndGlyphs" style="stroke:#000;stroke-width:0.6px">E</text>
<text x="66.00" y="256.20" font-size="9.0" text-anchor="start" font-weight="bold" font-style="normal" fill="#231f20" textLength="49.00" lengthAdjust="spacingAndGlyphs" >PHTX-166L</text>
<line x1="65.25" y1="257.10" x2="115.00" y2="257.10" stroke="#555" stroke-width="0.9" />
<line x1="46.80" y1="270.70" x2="46.80" y2="332.10" stroke="#2b2b2b" stroke-width="1.4" />
<line x1="46.10" y1="331.40" x2="133.10" y2="331.40" stroke="#2b2b2b" stroke-width="1.4" />
<line x1="43.50" y1="331.40" x2="46.80" y2="331.40" stroke="#2b2b2b" stroke-width="1.0" />
<text x="40.50" y="334.70" font-size="8.6" text-anchor="end" font-weight="normal" font-style="normal" fill="#231f20" textLength="4.33" lengthAdjust="spacingAndGlyphs" >0</text>
<line x1="43.50" y1="319.75" x2="46.80" y2="319.75" stroke="#2b2b2b" stroke-width="1.0" />
<text x="40.50" y="323.05" font-size="8.6" text-anchor="end" font-weight="normal" font-style="normal" fill="#231f20" textLength="12.99" lengthAdjust="spacingAndGlyphs" >500</text>
<line x1="43.50" y1="308.10" x2="46.80" y2="308.10" stroke="#2b2b2b" stroke-width="1.0" />
<text x="40.50" y="311.40" font-size="8.6" text-anchor="end" font-weight="normal" font-style="normal" fill="#231f20" textLength="17.32" lengthAdjust="spacingAndGlyphs" >1000</text>
<line x1="43.50" y1="296.45" x2="46.80" y2="296.45" stroke="#2b2b2b" stroke-width="1.0" />
<text x="40.50" y="299.75" font-size="8.6" text-anchor="end" font-weight="normal" font-style="normal" fill="#231f20" textLength="17.32" lengthAdjust="spacingAndGlyphs" >1500</text>
<line x1="43.50" y1="284.80" x2="46.80" y2="284.80" stroke="#2b2b2b" stroke-width="1.0" />
<text x="40.50" y="288.10" font-size="8.6" text-anchor="end" font-weight="normal" font-style="normal" fill="#231f20" textLength="17.32" lengthAdjust="spacingAndGlyphs" >2000</text>
<line x1="43.50" y1="273.15" x2="46.80" y2="273.15" stroke="#2b2b2b" stroke-width="1.0" />
<text x="40.50" y="276.45" font-size="8.6" text-anchor="end" font-weight="normal" font-style="normal" fill="#231f20" textLength="17.32" lengthAdjust="spacingAndGlyphs" >2500</text>
<line x1="46.80" y1="331.40" x2="46.80" y2="334.40" stroke="#2b2b2b" stroke-width="1.0" />
<text x="46.80" y="343.70" font-size="8.6" text-anchor="middle" font-weight="normal" font-style="normal" fill="#231f20" textLength="4.33" lengthAdjust="spacingAndGlyphs" >0</text>
<line x1="62.00" y1="331.40" x2="62.00" y2="334.40" stroke="#2b2b2b" stroke-width="1.0" />
<text x="62.00" y="343.70" font-size="8.6" text-anchor="middle" font-weight="normal" font-style="normal" fill="#231f20" textLength="4.33" lengthAdjust="spacingAndGlyphs" >3</text>
<line x1="77.20" y1="331.40" x2="77.20" y2="334.40" stroke="#2b2b2b" stroke-width="1.0" />
<text x="77.20" y="343.70" font-size="8.6" text-anchor="middle" font-weight="normal" font-style="normal" fill="#231f20" textLength="4.33" lengthAdjust="spacingAndGlyphs" >6</text>
<line x1="92.40" y1="331.40" x2="92.40" y2="334.40" stroke="#2b2b2b" stroke-width="1.0" />
<text x="92.40" y="343.70" font-size="8.6" text-anchor="middle" font-weight="normal" font-style="normal" fill="#231f20" textLength="4.33" lengthAdjust="spacingAndGlyphs" >9</text>
<line x1="107.60" y1="331.40" x2="107.60" y2="334.40" stroke="#2b2b2b" stroke-width="1.0" />
<text x="107.60" y="343.70" font-size="8.6" text-anchor="middle" font-weight="normal" font-style="normal" fill="#231f20" textLength="8.66" lengthAdjust="spacingAndGlyphs" >12</text>
<line x1="122.80" y1="331.40" x2="122.80" y2="334.40" stroke="#2b2b2b" stroke-width="1.0" />
<text x="122.80" y="343.70" font-size="8.6" text-anchor="middle" font-weight="normal" font-style="normal" fill="#231f20" textLength="8.66" lengthAdjust="spacingAndGlyphs" >15</text>
<text transform="translate(17.00,338.40) rotate(-90)" font-size="9.4" fill="#231f20" textLength="19.41" lengthAdjust="spacingAndGlyphs">Tumor</text>
<text transform="translate(17.00,317.11) rotate(-90)" font-size="9.4" fill="#231f20" textLength="25.55" lengthAdjust="spacingAndGlyphs">volume</text>
<text transform="translate(17.00,288.49) rotate(-90)" font-size="9.4" fill="#231f20" textLength="14.06" lengthAdjust="spacingAndGlyphs">(mm</text>
<text transform="translate(13.80,274.43) rotate(-90)" font-size="7.0" fill="#231f20" textLength="3.86" lengthAdjust="spacingAndGlyphs">3</text>
<text transform="translate(17.00,269.57) rotate(-90)" font-size="9.4" fill="#231f20" textLength="1.78" lengthAdjust="spacingAndGlyphs">)</text>
<text x="85.30" y="357.70" font-size="10.2" text-anchor="middle" font-weight="normal" font-style="normal" fill="#231f20" textLength="15.10" lengthAdjust="spacingAndGlyphs" >Days</text>
<polyline points="47.12,327.96 62.12,322.00 82.31,324.50 92.31,323.54 117.88,323.15" fill="none" stroke="#541e76" stroke-width="1.5" stroke-linejoin="round"/>
<path d="M44.90,329.26 L49.34,329.26 L47.12,326.11Z" fill="#541e76"/>
<path d="M59.90,323.30 L64.34,323.30 L62.12,320.15Z" fill="#541e76"/>
<path d="M80.09,325.80 L84.53,325.80 L82.31,322.65Z" fill="#541e76"/>
<path d="M90.09,324.83 L94.53,324.83 L92.31,321.69Z" fill="#541e76"/>
<path d="M115.66,324.45 L120.10,324.45 L117.88,321.30Z" fill="#541e76"/>
<line x1="82.31" y1="311.62" x2="82.31" y2="314.88" stroke="#2a2a2a" stroke-width="0.85" />
<line x1="81.01" y1="311.62" x2="83.61" y2="311.62" stroke="#2a2a2a" stroke-width="1.0" />
<polyline points="47.12,327.96 62.12,323.54 82.31,314.88 92.31,309.12" fill="none" stroke="#2dae40" stroke-width="1.5" stroke-linejoin="round"/>
<path d="M44.90,326.67 L49.34,326.67 L47.12,329.81Z" fill="#2dae40"/>
<path d="M59.90,322.24 L64.34,322.24 L62.12,325.39Z" fill="#2dae40"/>
<path d="M80.09,313.59 L84.53,313.59 L82.31,316.73Z" fill="#2dae40"/>
<path d="M90.09,307.82 L94.53,307.82 L92.31,310.97Z" fill="#2dae40"/>
<line x1="92.31" y1="305.27" x2="92.31" y2="308.54" stroke="#2a2a2a" stroke-width="0.85" />
<line x1="91.01" y1="305.27" x2="93.61" y2="305.27" stroke="#2a2a2a" stroke-width="1.0" />
<line x1="117.88" y1="293.73" x2="117.88" y2="299.50" stroke="#2a2a2a" stroke-width="0.85" />
<line x1="116.58" y1="293.73" x2="119.18" y2="293.73" stroke="#2a2a2a" stroke-width="1.0" />
<polyline points="47.12,327.96 62.12,324.50 82.31,318.73 92.31,308.54 117.88,299.50" fill="none" stroke="#c8102e" stroke-width="1.5" stroke-linejoin="round"/>
<ellipse cx="47.12" cy="327.96" rx="2.04" ry="1.85" fill="#c8102e"/>
<ellipse cx="62.12" cy="324.50" rx="2.04" ry="1.85" fill="#c8102e"/>
<ellipse cx="82.31" cy="318.73" rx="2.04" ry="1.85" fill="#c8102e"/>
<ellipse cx="92.31" cy="308.54" rx="2.04" ry="1.85" fill="#c8102e"/>
<ellipse cx="117.88" cy="299.50" rx="2.04" ry="1.85" fill="#c8102e"/>
<line x1="62.12" y1="316.42" x2="62.12" y2="317.77" stroke="#2a2a2a" stroke-width="0.85" />
<line x1="60.82" y1="316.42" x2="63.42" y2="316.42" stroke="#2a2a2a" stroke-width="1.0" />
<line x1="82.31" y1="299.88" x2="82.31" y2="302.77" stroke="#2a2a2a" stroke-width="0.85" />
<line x1="81.01" y1="299.88" x2="83.61" y2="299.88" stroke="#2a2a2a" stroke-width="1.0" />
<line x1="92.31" y1="278.35" x2="92.31" y2="284.50" stroke="#2a2a2a" stroke-width="0.85" />
<line x1="91.01" y1="278.35" x2="93.61" y2="278.35" stroke="#2a2a2a" stroke-width="1.0" />
<polyline points="47.12,327.96 62.12,317.77 82.31,302.77 92.31,284.50" fill="none" stroke="#0f4b8a" stroke-width="1.5" stroke-linejoin="round"/>
<path d="M44.90,327.96 L47.12,326.11 L49.34,327.96 L47.12,329.81Z" fill="#0f4b8a"/>
<path d="M59.90,317.77 L62.12,315.92 L64.34,317.77 L62.12,319.62Z" fill="#0f4b8a"/>
<path d="M80.09,302.77 L82.31,300.92 L84.53,302.77 L82.31,304.62Z" fill="#0f4b8a"/>
<path d="M90.09,284.50 L92.31,282.65 L94.53,284.50 L92.31,286.35Z" fill="#0f4b8a"/>
<line x1="128.20" y1="290.00" x2="135.30" y2="290.00" stroke="#0f4b8a" stroke-width="1.5" />
<path d="M129.42,290.00 L131.70,288.10 L133.98,290.00 L131.70,291.90Z" fill="#0f4b8a"/>
<text x="138.30" y="292.60" font-size="7.5" text-anchor="start" font-weight="normal" font-style="normal" fill="#231f20" >Vehicle</text>
<line x1="128.20" y1="298.30" x2="135.30" y2="298.30" stroke="#c8102e" stroke-width="1.5" />
<ellipse cx="131.70" cy="298.30" rx="2.09" ry="1.90" fill="#c8102e"/>
<text x="138.30" y="300.90" font-size="7.5" text-anchor="start" font-weight="normal" font-style="normal" fill="#231f20" >TAK-981</text>
<line x1="128.20" y1="306.90" x2="135.30" y2="306.90" stroke="#2dae40" stroke-width="1.5" />
<path d="M129.42,305.57 L133.98,305.57 L131.70,308.80Z" fill="#2dae40"/>
<text x="138.30" y="309.50" font-size="7.5" text-anchor="start" font-weight="normal" font-style="normal" fill="#231f20" >Rituximab</text>
<line x1="128.20" y1="315.00" x2="135.30" y2="315.00" stroke="#541e76" stroke-width="1.5" />
<path d="M129.42,316.33 L133.98,316.33 L131.70,313.10Z" fill="#541e76"/>
<text x="138.30" y="317.60" font-size="7.5" text-anchor="start" font-weight="normal" font-style="normal" fill="#231f20" textLength="93.40" lengthAdjust="spacingAndGlyphs" >TAK-981/Rituximab (1/6 CR)</text>
<line x1="171.20" y1="289.40" x2="171.20" y2="301.50" stroke="#231f20" stroke-width="0.9" />
<text x="173.80" y="299.27" font-size="8.6" text-anchor="start" font-weight="normal" font-style="normal" fill="#231f20" style="stroke-width:0.28px">**</text>
<line x1="184.10" y1="292.00" x2="184.10" y2="307.70" stroke="#231f20" stroke-width="0.9" />
<text x="188.70" y="303.27" font-size="8.6" text-anchor="start" font-weight="normal" font-style="normal" fill="#231f20" style="stroke-width:0.28px">*</text>
<line x1="233.60" y1="289.40" x2="233.60" y2="317.70" stroke="#231f20" stroke-width="0.9" />
<text x="236.30" y="308.17" font-size="8.6" text-anchor="start" font-weight="normal" font-style="normal" fill="#231f20" style="stroke-width:0.28px">***</text>
<text x="259.00" y="255.70" font-size="11.2" text-anchor="start" font-weight="bold" font-style="normal" fill="#000" textLength="5.80" lengthAdjust="spacingAndGlyphs" style="stroke:#000;stroke-width:0.6px">F</text>
<text x="331.80" y="255.90" font-size="9.0" text-anchor="start" font-weight="bold" font-style="normal" fill="#231f20" textLength="17.40" lengthAdjust="spacingAndGlyphs" >LP-1</text>
<line x1="331.00" y1="256.90" x2="353.80" y2="256.90" stroke="#555" stroke-width="0.9" />
<line x1="299.00" y1="270.70" x2="299.00" y2="332.10" stroke="#2b2b2b" stroke-width="1.4" />
<line x1="298.30" y1="331.40" x2="389.60" y2="331.40" stroke="#2b2b2b" stroke-width="1.4" />
<line x1="295.70" y1="331.40" x2="299.00" y2="331.40" stroke="#2b2b2b" stroke-width="1.0" />
<text x="292.70" y="334.70" font-size="8.6" text-anchor="end" font-weight="normal" font-style="normal" fill="#231f20" textLength="4.33" lengthAdjust="spacingAndGlyphs" >0</text>
<line x1="295.70" y1="319.75" x2="299.00" y2="319.75" stroke="#2b2b2b" stroke-width="1.0" />
<text x="292.70" y="323.05" font-size="8.6" text-anchor="end" font-weight="normal" font-style="normal" fill="#231f20" textLength="12.99" lengthAdjust="spacingAndGlyphs" >500</text>
<line x1="295.70" y1="308.10" x2="299.00" y2="308.10" stroke="#2b2b2b" stroke-width="1.0" />
<text x="292.70" y="311.40" font-size="8.6" text-anchor="end" font-weight="normal" font-style="normal" fill="#231f20" textLength="17.32" lengthAdjust="spacingAndGlyphs" >1000</text>
<line x1="295.70" y1="296.45" x2="299.00" y2="296.45" stroke="#2b2b2b" stroke-width="1.0" />
<text x="292.70" y="299.75" font-size="8.6" text-anchor="end" font-weight="normal" font-style="normal" fill="#231f20" textLength="17.32" lengthAdjust="spacingAndGlyphs" >1500</text>
<line x1="295.70" y1="284.80" x2="299.00" y2="284.80" stroke="#2b2b2b" stroke-width="1.0" />
<text x="292.70" y="288.10" font-size="8.6" text-anchor="end" font-weight="normal" font-style="normal" fill="#231f20" textLength="17.32" lengthAdjust="spacingAndGlyphs" >2000</text>
<line x1="295.70" y1="273.15" x2="299.00" y2="273.15" stroke="#2b2b2b" stroke-width="1.0" />
<text x="292.70" y="276.45" font-size="8.6" text-anchor="end" font-weight="normal" font-style="normal" fill="#231f20" textLength="17.32" lengthAdjust="spacingAndGlyphs" >2500</text>
<line x1="299.00" y1="331.40" x2="299.00" y2="334.40" stroke="#2b2b2b" stroke-width="1.0" />
<text x="299.00" y="343.70" font-size="8.6" text-anchor="middle" font-weight="normal" font-style="normal" fill="#231f20" textLength="4.33" lengthAdjust="spacingAndGlyphs" >0</text>
<line x1="320.60" y1="331.40" x2="320.60" y2="334.40" stroke="#2b2b2b" stroke-width="1.0" />
<text x="320.60" y="343.70" font-size="8.6" text-anchor="middle" font-weight="normal" font-style="normal" fill="#231f20" textLength="4.33" lengthAdjust="spacingAndGlyphs" >5</text>
<line x1="342.20" y1="331.40" x2="342.20" y2="334.40" stroke="#2b2b2b" stroke-width="1.0" />
<text x="342.20" y="343.70" font-size="8.6" text-anchor="middle" font-weight="normal" font-style="normal" fill="#231f20" textLength="8.66" lengthAdjust="spacingAndGlyphs" >10</text>
<line x1="363.80" y1="331.40" x2="363.80" y2="334.40" stroke="#2b2b2b" stroke-width="1.0" />
<text x="363.80" y="343.70" font-size="8.6" text-anchor="middle" font-weight="normal" font-style="normal" fill="#231f20" textLength="8.66" lengthAdjust="spacingAndGlyphs" >15</text>
<line x1="385.40" y1="331.40" x2="385.40" y2="334.40" stroke="#2b2b2b" stroke-width="1.0" />
<text x="385.40" y="343.70" font-size="8.6" text-anchor="middle" font-weight="normal" font-style="normal" fill="#231f20" textLength="8.66" lengthAdjust="spacingAndGlyphs" >20</text>
<text transform="translate(268.00,338.40) rotate(-90)" font-size="9.4" fill="#231f20" textLength="19.41" lengthAdjust="spacingAndGlyphs">Tumor</text>
<text transform="translate(268.00,317.11) rotate(-90)" font-size="9.4" fill="#231f20" textLength="25.55" lengthAdjust="spacingAndGlyphs">volume</text>
<text transform="translate(268.00,288.49) rotate(-90)" font-size="9.4" fill="#231f20" textLength="14.06" lengthAdjust="spacingAndGlyphs">(mm</text>
<text transform="translate(264.80,274.43) rotate(-90)" font-size="7.0" fill="#231f20" textLength="3.86" lengthAdjust="spacingAndGlyphs">3</text>
<text transform="translate(268.00,269.57) rotate(-90)" font-size="9.4" fill="#231f20" textLength="1.78" lengthAdjust="spacingAndGlyphs">)</text>
<text x="342.40" y="356.50" font-size="10.2" text-anchor="middle" font-weight="normal" font-style="normal" fill="#231f20" textLength="15.10" lengthAdjust="spacingAndGlyphs" >Days</text>
<polyline points="299.12,328.92 312.19,327.00 329.50,325.46 342.38,325.85 359.31,323.92 372.38,323.54" fill="none" stroke="#541e76" stroke-width="1.5" stroke-linejoin="round"/>
<path d="M296.90,330.22 L301.34,330.22 L299.12,327.07Z" fill="#541e76"/>
<path d="M309.97,328.30 L314.41,328.30 L312.19,325.15Z" fill="#541e76"/>
<path d="M327.28,326.76 L331.72,326.76 L329.50,323.61Z" fill="#541e76"/>
<path d="M340.16,327.14 L344.60,327.14 L342.38,324.00Z" fill="#541e76"/>
<path d="M357.09,325.22 L361.53,325.22 L359.31,322.07Z" fill="#541e76"/>
<path d="M370.16,324.83 L374.60,324.83 L372.38,321.69Z" fill="#541e76"/>
<polyline points="299.12,328.92 312.19,326.42 329.50,321.62 342.38,318.15 359.31,311.62 372.38,308.54" fill="none" stroke="#2dae40" stroke-width="1.5" stroke-linejoin="round"/>
<path d="M296.90,327.63 L301.34,327.63 L299.12,330.77Z" fill="#2dae40"/>
<path d="M309.97,325.13 L314.41,325.13 L312.19,328.27Z" fill="#2dae40"/>
<path d="M327.28,320.32 L331.72,320.32 L329.50,323.47Z" fill="#2dae40"/>
<path d="M340.16,316.86 L344.60,316.86 L342.38,320.00Z" fill="#2dae40"/>
<path d="M357.09,310.32 L361.53,310.32 L359.31,313.47Z" fill="#2dae40"/>
<path d="M370.16,307.24 L374.60,307.24 L372.38,310.39Z" fill="#2dae40"/>
<line x1="359.31" y1="302.77" x2="359.31" y2="312.38" stroke="#2a2a2a" stroke-width="0.85" />
<line x1="358.01" y1="302.77" x2="360.61" y2="302.77" stroke="#2a2a2a" stroke-width="1.0" />
<line x1="372.38" y1="290.46" x2="372.38" y2="307.19" stroke="#2a2a2a" stroke-width="0.85" />
<line x1="371.08" y1="290.46" x2="373.68" y2="290.46" stroke="#2a2a2a" stroke-width="1.0" />
<polyline points="299.12,328.92 312.19,327.00 329.50,323.92 342.38,319.31 359.31,312.38 372.38,307.19" fill="none" stroke="#c8102e" stroke-width="1.5" stroke-linejoin="round"/>
<ellipse cx="299.12" cy="328.92" rx="2.04" ry="1.85" fill="#c8102e"/>
<ellipse cx="312.19" cy="327.00" rx="2.04" ry="1.85" fill="#c8102e"/>
<ellipse cx="329.50" cy="323.92" rx="2.04" ry="1.85" fill="#c8102e"/>
<ellipse cx="342.38" cy="319.31" rx="2.04" ry="1.85" fill="#c8102e"/>
<ellipse cx="359.31" cy="312.38" rx="2.04" ry="1.85" fill="#c8102e"/>
<ellipse cx="372.38" cy="307.19" rx="2.04" ry="1.85" fill="#c8102e"/>
<line x1="312.19" y1="323.54" x2="312.19" y2="324.50" stroke="#2a2a2a" stroke-width="0.85" />
<line x1="310.89" y1="323.54" x2="313.49" y2="323.54" stroke="#2a2a2a" stroke-width="1.0" />
<line x1="329.50" y1="317.77" x2="329.50" y2="320.08" stroke="#2a2a2a" stroke-width="0.85" />
<line x1="328.20" y1="317.77" x2="330.80" y2="317.77" stroke="#2a2a2a" stroke-width="1.0" />
<line x1="342.38" y1="309.12" x2="342.38" y2="313.54" stroke="#2a2a2a" stroke-width="0.85" />
<line x1="341.08" y1="309.12" x2="343.68" y2="309.12" stroke="#2a2a2a" stroke-width="1.0" />
<line x1="359.31" y1="298.54" x2="359.31" y2="306.81" stroke="#2a2a2a" stroke-width="0.85" />
<line x1="358.01" y1="298.54" x2="360.61" y2="298.54" stroke="#2a2a2a" stroke-width="1.0" />
<line x1="372.38" y1="281.23" x2="372.38" y2="296.23" stroke="#2a2a2a" stroke-width="0.85" />
<line x1="371.08" y1="281.23" x2="373.68" y2="281.23" stroke="#2a2a2a" stroke-width="1.0" />
<polyline points="299.12,328.92 312.19,324.50 329.50,320.08 342.38,313.54 359.31,306.81 372.38,296.23" fill="none" stroke="#0f4b8a" stroke-width="1.5" stroke-linejoin="round"/>
<path d="M296.90,328.92 L299.12,327.07 L301.34,328.92 L299.12,330.77Z" fill="#0f4b8a"/>
<path d="M309.97,324.50 L312.19,322.65 L314.41,324.50 L312.19,326.35Z" fill="#0f4b8a"/>
<path d="M327.28,320.08 L329.50,318.23 L331.72,320.08 L329.50,321.93Z" fill="#0f4b8a"/>
<path d="M340.16,313.54 L342.38,311.69 L344.60,313.54 L342.38,315.39Z" fill="#0f4b8a"/>
<path d="M357.09,306.81 L359.31,304.96 L361.53,306.81 L359.31,308.66Z" fill="#0f4b8a"/>
<path d="M370.16,296.23 L372.38,294.38 L374.60,296.23 L372.38,298.08Z" fill="#0f4b8a"/>
<line x1="383.50" y1="287.00" x2="390.80" y2="287.00" stroke="#0f4b8a" stroke-width="1.5" />
<path d="M384.82,287.00 L387.10,285.10 L389.38,287.00 L387.10,288.90Z" fill="#0f4b8a"/>
<text x="394.00" y="289.60" font-size="7.5" text-anchor="start" font-weight="normal" font-style="normal" fill="#231f20" >Vehicle</text>
<line x1="383.50" y1="296.70" x2="390.80" y2="296.70" stroke="#c8102e" stroke-width="1.5" />
<ellipse cx="387.10" cy="296.70" rx="2.09" ry="1.90" fill="#c8102e"/>
<text x="394.00" y="299.30" font-size="7.5" text-anchor="start" font-weight="normal" font-style="normal" fill="#231f20" >TAK-981</text>
<line x1="383.50" y1="307.30" x2="390.80" y2="307.30" stroke="#2dae40" stroke-width="1.5" />
<path d="M384.82,305.97 L389.38,305.97 L387.10,309.20Z" fill="#2dae40"/>
<text x="394.00" y="309.90" font-size="7.5" text-anchor="start" font-weight="normal" font-style="normal" fill="#231f20" >Daratumumab</text>
<line x1="383.50" y1="317.10" x2="390.80" y2="317.10" stroke="#541e76" stroke-width="1.5" />
<path d="M384.82,318.43 L389.38,318.43 L387.10,315.20Z" fill="#541e76"/>
<text x="394.00" y="319.70" font-size="7.5" text-anchor="start" font-weight="normal" font-style="normal" fill="#231f20" >TAK-981/Daratumumab</text>
<line x1="427.40" y1="286.10" x2="427.40" y2="299.50" stroke="#231f20" stroke-width="0.9" />
<text x="429.60" y="295.80" font-size="8.6" text-anchor="start" font-weight="normal" font-style="italic" fill="#231f20" textLength="13.30" lengthAdjust="spacingAndGlyphs" >N.S.</text>
<line x1="449.70" y1="286.10" x2="449.70" y2="307.30" stroke="#231f20" stroke-width="0.9" />
<text x="451.90" y="300.40" font-size="8.6" text-anchor="start" font-weight="normal" font-style="italic" fill="#231f20" textLength="13.90" lengthAdjust="spacingAndGlyphs" >N.S.</text>
<line x1="476.80" y1="286.10" x2="476.80" y2="316.30" stroke="#231f20" stroke-width="0.9" />
<text x="479.60" y="305.37" font-size="8.6" text-anchor="start" font-weight="normal" font-style="normal" fill="#231f20" style="stroke-width:0.28px">***</text>
<text x="6.80" y="377.60" font-size="11.2" text-anchor="start" font-weight="bold" font-style="normal" fill="#000" textLength="8.10" lengthAdjust="spacingAndGlyphs" style="stroke:#000;stroke-width:0.6px">G</text>
<text x="63.80" y="377.90" font-size="9.0" text-anchor="start" font-weight="bold" font-style="normal" fill="#231f20" textLength="40.80" lengthAdjust="spacingAndGlyphs" >OCI-Ly10</text>
<line x1="63.10" y1="379.40" x2="107.20" y2="379.40" stroke="#555" stroke-width="0.9" />
<line x1="46.80" y1="389.30" x2="46.80" y2="453.20" stroke="#2b2b2b" stroke-width="1.4" />
<line x1="46.10" y1="452.50" x2="122.60" y2="452.50" stroke="#2b2b2b" stroke-width="1.4" />
<line x1="43.50" y1="452.50" x2="46.80" y2="452.50" stroke="#2b2b2b" stroke-width="1.0" />
<text x="40.50" y="455.80" font-size="8.6" text-anchor="end" font-weight="normal" font-style="normal" fill="#231f20" textLength="4.33" lengthAdjust="spacingAndGlyphs" >0</text>
<line x1="43.50" y1="440.45" x2="46.80" y2="440.45" stroke="#2b2b2b" stroke-width="1.0" />
<text x="40.50" y="443.75" font-size="8.6" text-anchor="end" font-weight="normal" font-style="normal" fill="#231f20" textLength="12.99" lengthAdjust="spacingAndGlyphs" >200</text>
<line x1="43.50" y1="428.40" x2="46.80" y2="428.40" stroke="#2b2b2b" stroke-width="1.0" />
<text x="40.50" y="431.70" font-size="8.6" text-anchor="end" font-weight="normal" font-style="normal" fill="#231f20" textLength="12.99" lengthAdjust="spacingAndGlyphs" >400</text>
<line x1="43.50" y1="416.35" x2="46.80" y2="416.35" stroke="#2b2b2b" stroke-width="1.0" />
<text x="40.50" y="419.65" font-size="8.6" text-anchor="end" font-weight="normal" font-style="normal" fill="#231f20" textLength="12.99" lengthAdjust="spacingAndGlyphs" >600</text>
<line x1="43.50" y1="404.30" x2="46.80" y2="404.30" stroke="#2b2b2b" stroke-width="1.0" />
<text x="40.50" y="407.60" font-size="8.6" text-anchor="end" font-weight="normal" font-style="normal" fill="#231f20" textLength="12.99" lengthAdjust="spacingAndGlyphs" >800</text>
<line x1="43.50" y1="392.25" x2="46.80" y2="392.25" stroke="#2b2b2b" stroke-width="1.0" />
<text x="40.50" y="395.55" font-size="8.6" text-anchor="end" font-weight="normal" font-style="normal" fill="#231f20" textLength="17.32" lengthAdjust="spacingAndGlyphs" >1000</text>
<line x1="46.80" y1="452.50" x2="46.80" y2="455.50" stroke="#2b2b2b" stroke-width="1.0" />
<text x="46.80" y="464.80" font-size="8.6" text-anchor="middle" font-weight="normal" font-style="normal" fill="#231f20" textLength="4.33" lengthAdjust="spacingAndGlyphs" >0</text>
<line x1="71.90" y1="452.50" x2="71.90" y2="455.50" stroke="#2b2b2b" stroke-width="1.0" />
<text x="71.90" y="464.80" font-size="8.6" text-anchor="middle" font-weight="normal" font-style="normal" fill="#231f20" textLength="8.66" lengthAdjust="spacingAndGlyphs" >20</text>
<line x1="97.00" y1="452.50" x2="97.00" y2="455.50" stroke="#2b2b2b" stroke-width="1.0" />
<text x="97.00" y="464.80" font-size="8.6" text-anchor="middle" font-weight="normal" font-style="normal" fill="#231f20" textLength="8.66" lengthAdjust="spacingAndGlyphs" >40</text>
<line x1="122.10" y1="452.50" x2="122.10" y2="455.50" stroke="#2b2b2b" stroke-width="1.0" />
<text x="122.10" y="464.80" font-size="8.6" text-anchor="middle" font-weight="normal" font-style="normal" fill="#231f20" textLength="8.66" lengthAdjust="spacingAndGlyphs" >60</text>
<text transform="translate(17.00,459.20) rotate(-90)" font-size="9.4" fill="#231f20" textLength="19.63" lengthAdjust="spacingAndGlyphs">Tumor</text>
<text transform="translate(17.00,437.67) rotate(-90)" font-size="9.4" fill="#231f20" textLength="25.83" lengthAdjust="spacingAndGlyphs">volume</text>
<text transform="translate(17.00,408.73) rotate(-90)" font-size="9.4" fill="#231f20" textLength="14.22" lengthAdjust="spacingAndGlyphs">(mm</text>
<text transform="translate(13.80,394.51) rotate(-90)" font-size="7.0" fill="#231f20" textLength="3.91" lengthAdjust="spacingAndGlyphs">3</text>
<text transform="translate(17.00,389.60) rotate(-90)" font-size="9.4" fill="#231f20" textLength="1.80" lengthAdjust="spacingAndGlyphs">)</text>
<text x="84.50" y="477.20" font-size="10.2" text-anchor="middle" font-weight="normal" font-style="normal" fill="#231f20" textLength="15.10" lengthAdjust="spacingAndGlyphs" >Days</text>
<polyline points="47.12,444.50 51.92,445.85 56.92,445.08 60.77,446.42 68.46,449.31 75.58,450.27 85.77,451.62 93.46,452.19 101.92,452.19 108.27,452.19 118.46,452.19" fill="none" stroke="#fb8c10" stroke-width="1.5" stroke-linejoin="round"/>
<path d="M44.90,444.50 L47.12,442.65 L49.34,444.50 L47.12,446.35Z" fill="#fb8c10"/>
<path d="M49.70,445.85 L51.92,444.00 L54.14,445.85 L51.92,447.70Z" fill="#fb8c10"/>
<path d="M54.70,445.08 L56.92,443.23 L59.14,445.08 L56.92,446.93Z" fill="#fb8c10"/>
<path d="M58.55,446.42 L60.77,444.57 L62.99,446.42 L60.77,448.27Z" fill="#fb8c10"/>
<path d="M66.24,449.31 L68.46,447.46 L70.68,449.31 L68.46,451.16Z" fill="#fb8c10"/>
<path d="M73.36,450.27 L75.58,448.42 L77.80,450.27 L75.58,452.12Z" fill="#fb8c10"/>
<path d="M83.55,451.62 L85.77,449.77 L87.99,451.62 L85.77,453.47Z" fill="#fb8c10"/>
<path d="M91.24,452.19 L93.46,450.34 L95.68,452.19 L93.46,454.04Z" fill="#fb8c10"/>
<path d="M99.70,452.19 L101.92,450.34 L104.14,452.19 L101.92,454.04Z" fill="#fb8c10"/>
<path d="M106.05,452.19 L108.27,450.34 L110.49,452.19 L108.27,454.04Z" fill="#fb8c10"/>
<path d="M116.24,452.19 L118.46,450.34 L120.68,452.19 L118.46,454.04Z" fill="#fb8c10"/>
<line x1="85.77" y1="436.81" x2="85.77" y2="440.65" stroke="#2a2a2a" stroke-width="0.85" />
<line x1="84.47" y1="436.81" x2="87.07" y2="436.81" stroke="#2a2a2a" stroke-width="1.0" />
<line x1="93.46" y1="437.77" x2="93.46" y2="441.62" stroke="#2a2a2a" stroke-width="0.85" />
<line x1="92.16" y1="437.77" x2="94.76" y2="437.77" stroke="#2a2a2a" stroke-width="1.0" />
<line x1="101.92" y1="427.19" x2="101.92" y2="431.62" stroke="#2a2a2a" stroke-width="0.85" />
<line x1="100.62" y1="427.19" x2="103.22" y2="427.19" stroke="#2a2a2a" stroke-width="1.0" />
<line x1="108.27" y1="427.19" x2="108.27" y2="433.54" stroke="#2a2a2a" stroke-width="0.85" />
<line x1="106.97" y1="427.19" x2="109.57" y2="427.19" stroke="#2a2a2a" stroke-width="1.0" />
<line x1="118.46" y1="413.73" x2="118.46" y2="426.62" stroke="#2a2a2a" stroke-width="0.85" />
<line x1="117.16" y1="413.73" x2="119.76" y2="413.73" stroke="#2a2a2a" stroke-width="1.0" />
<polyline points="47.12,444.50 51.92,443.54 56.92,443.54 60.77,443.54 68.46,444.50 75.58,444.50 85.77,440.65 93.46,441.62 101.92,431.62 108.27,433.54 118.46,426.62" fill="none" stroke="#2dae40" stroke-width="1.5" stroke-linejoin="round"/>
<path d="M44.90,443.20 L49.34,443.20 L47.12,446.35Z" fill="#2dae40"/>
<path d="M49.70,442.24 L54.14,442.24 L51.92,445.39Z" fill="#2dae40"/>
<path d="M54.70,442.24 L59.14,442.24 L56.92,445.39Z" fill="#2dae40"/>
<path d="M58.55,442.24 L62.99,442.24 L60.77,445.39Z" fill="#2dae40"/>
<path d="M66.24,443.20 L70.68,443.20 L68.46,446.35Z" fill="#2dae40"/>
<path d="M73.36,443.20 L77.80,443.20 L75.58,446.35Z" fill="#2dae40"/>
<path d="M83.55,439.36 L87.99,439.36 L85.77,442.50Z" fill="#2dae40"/>
<path d="M91.24,440.32 L95.68,440.32 L93.46,443.47Z" fill="#2dae40"/>
<path d="M99.70,430.32 L104.14,430.32 L101.92,433.47Z" fill="#2dae40"/>
<path d="M106.05,432.24 L110.49,432.24 L108.27,435.39Z" fill="#2dae40"/>
<path d="M116.24,425.32 L120.68,425.32 L118.46,428.47Z" fill="#2dae40"/>
<polyline points="47.12,444.50 51.92,443.92 56.92,443.15 60.77,442.58 68.46,443.15 75.58,439.69 85.77,421.42 93.46,413.73" fill="none" stroke="#0d6b4f" stroke-width="1.5" stroke-linejoin="round"/>
<ellipse cx="47.12" cy="444.50" rx="2.04" ry="1.85" fill="#0d6b4f"/>
<ellipse cx="51.92" cy="443.92" rx="2.04" ry="1.85" fill="#0d6b4f"/>
<ellipse cx="56.92" cy="443.15" rx="2.04" ry="1.85" fill="#0d6b4f"/>
<ellipse cx="60.77" cy="442.58" rx="2.04" ry="1.85" fill="#0d6b4f"/>
<ellipse cx="68.46" cy="443.15" rx="2.04" ry="1.85" fill="#0d6b4f"/>
<ellipse cx="75.58" cy="439.69" rx="2.04" ry="1.85" fill="#0d6b4f"/>
<ellipse cx="85.77" cy="421.42" rx="2.04" ry="1.85" fill="#0d6b4f"/>
<ellipse cx="93.46" cy="413.73" rx="2.04" ry="1.85" fill="#0d6b4f"/>
<polyline points="47.12,444.50 51.92,443.54 56.92,442.00 60.77,441.62 68.46,441.62 75.58,435.85 85.77,417.58 93.46,410.85" fill="none" stroke="#541e76" stroke-width="1.5" stroke-linejoin="round"/>
<path d="M44.90,445.80 L49.34,445.80 L47.12,442.65Z" fill="#541e76"/>
<path d="M49.70,444.83 L54.14,444.83 L51.92,441.69Z" fill="#541e76"/>
<path d="M54.70,443.30 L59.14,443.30 L56.92,440.15Z" fill="#541e76"/>
<path d="M58.55,442.91 L62.99,442.91 L60.77,439.77Z" fill="#541e76"/>
<path d="M66.24,442.91 L70.68,442.91 L68.46,439.77Z" fill="#541e76"/>
<path d="M73.36,437.14 L77.80,437.14 L75.58,434.00Z" fill="#541e76"/>
<path d="M83.55,418.87 L87.99,418.87 L85.77,415.73Z" fill="#541e76"/>
<path d="M91.24,412.14 L95.68,412.14 L93.46,409.00Z" fill="#541e76"/>
<polyline points="47.12,444.50 51.92,443.15 56.92,442.58 60.77,442.00 68.46,442.58 75.58,436.81 85.77,416.62 93.46,407.96" fill="none" stroke="#c8102e" stroke-width="1.5" stroke-linejoin="round"/>
<ellipse cx="47.12" cy="444.50" rx="2.04" ry="1.85" fill="#c8102e"/>
<ellipse cx="51.92" cy="443.15" rx="2.04" ry="1.85" fill="#c8102e"/>
<ellipse cx="56.92" cy="442.58" rx="2.04" ry="1.85" fill="#c8102e"/>
<ellipse cx="60.77" cy="442.00" rx="2.04" ry="1.85" fill="#c8102e"/>
<ellipse cx="68.46" cy="442.58" rx="2.04" ry="1.85" fill="#c8102e"/>
<ellipse cx="75.58" cy="436.81" rx="2.04" ry="1.85" fill="#c8102e"/>
<ellipse cx="85.77" cy="416.62" rx="2.04" ry="1.85" fill="#c8102e"/>
<ellipse cx="93.46" cy="407.96" rx="2.04" ry="1.85" fill="#c8102e"/>
<line x1="68.46" y1="431.62" x2="68.46" y2="433.92" stroke="#2a2a2a" stroke-width="0.85" />
<line x1="67.16" y1="431.62" x2="69.76" y2="431.62" stroke="#2a2a2a" stroke-width="1.0" />
<line x1="75.58" y1="429.69" x2="75.58" y2="432.00" stroke="#2a2a2a" stroke-width="0.85" />
<line x1="74.28" y1="429.69" x2="76.88" y2="429.69" stroke="#2a2a2a" stroke-width="1.0" />
<line x1="85.77" y1="407.00" x2="85.77" y2="413.35" stroke="#2a2a2a" stroke-width="0.85" />
<line x1="84.47" y1="407.00" x2="87.07" y2="407.00" stroke="#2a2a2a" stroke-width="1.0" />
<line x1="93.46" y1="397.38" x2="93.46" y2="404.12" stroke="#2a2a2a" stroke-width="0.85" />
<line x1="92.16" y1="397.38" x2="94.76" y2="397.38" stroke="#2a2a2a" stroke-width="1.0" />
<polyline points="47.12,444.50 51.92,443.92 56.92,439.69 60.77,437.77 68.46,433.92 75.58,432.00 85.77,413.35 93.46,404.12" fill="none" stroke="#0f4b8a" stroke-width="1.5" stroke-linejoin="round"/>
<path d="M44.90,444.50 L47.12,442.65 L49.34,444.50 L47.12,446.35Z" fill="#0f4b8a"/>
<path d="M49.70,443.92 L51.92,442.07 L54.14,443.92 L51.92,445.77Z" fill="#0f4b8a"/>
<path d="M54.70,439.69 L56.92,437.84 L59.14,439.69 L56.92,441.54Z" fill="#0f4b8a"/>
<path d="M58.55,437.77 L60.77,435.92 L62.99,437.77 L60.77,439.62Z" fill="#0f4b8a"/>
<path d="M66.24,433.92 L68.46,432.07 L70.68,433.92 L68.46,435.77Z" fill="#0f4b8a"/>
<path d="M73.36,432.00 L75.58,430.15 L77.80,432.00 L75.58,433.85Z" fill="#0f4b8a"/>
<path d="M83.55,413.35 L85.77,411.50 L87.99,413.35 L85.77,415.20Z" fill="#0f4b8a"/>
<path d="M91.24,404.12 L93.46,402.27 L95.68,404.12 L93.46,405.97Z" fill="#0f4b8a"/>
<line x1="123.90" y1="396.30" x2="131.50" y2="396.30" stroke="#0f4b8a" stroke-width="1.5" />
<path d="M125.37,396.30 L127.65,394.40 L129.93,396.30 L127.65,398.20Z" fill="#0f4b8a"/>
<text x="134.40" y="398.90" font-size="7.5" text-anchor="start" font-weight="normal" font-style="normal" fill="#231f20" >Vehicle</text>
<line x1="123.90" y1="405.70" x2="131.50" y2="405.70" stroke="#c8102e" stroke-width="1.5" />
<ellipse cx="127.65" cy="405.70" rx="2.09" ry="1.90" fill="#c8102e"/>
<text x="134.40" y="408.30" font-size="7.5" text-anchor="start" font-weight="normal" font-style="normal" fill="#231f20" >TAK-981</text>
<line x1="123.90" y1="416.50" x2="131.50" y2="416.50" stroke="#2dae40" stroke-width="1.5" />
<path d="M125.37,415.17 L129.93,415.17 L127.65,418.40Z" fill="#2dae40"/>
<text x="134.40" y="419.10" font-size="7.5" text-anchor="start" font-weight="normal" font-style="normal" fill="#231f20" >Rituximab (1/8 CR)</text>
<line x1="123.90" y1="426.20" x2="131.50" y2="426.20" stroke="#541e76" stroke-width="1.5" />
<path d="M125.37,427.53 L129.93,427.53 L127.65,424.30Z" fill="#541e76"/>
<text x="134.40" y="428.80" font-size="7.5" text-anchor="start" font-weight="normal" font-style="normal" fill="#231f20" >Rituximab LALA-PG</text>
<line x1="123.90" y1="436.40" x2="131.50" y2="436.40" stroke="#fb8c10" stroke-width="1.5" />
<path d="M125.37,436.40 L127.65,434.50 L129.93,436.40 L127.65,438.30Z" fill="#fb8c10"/>
<text x="134.40" y="439.00" font-size="7.5" text-anchor="start" font-weight="normal" font-style="normal" fill="#231f20" >TAK-981/Rituximab (8/8 CR)</text>
<line x1="123.90" y1="446.60" x2="131.50" y2="446.60" stroke="#0d6b4f" stroke-width="1.5" />
<ellipse cx="127.65" cy="446.60" rx="2.09" ry="1.90" fill="#0d6b4f"/>
<text x="134.40" y="449.20" font-size="7.5" text-anchor="start" font-weight="normal" font-style="normal" fill="#231f20" textLength="97.00" lengthAdjust="spacingAndGlyphs" >TAK-981/Rituximab LALA-PG</text>
<line x1="202.50" y1="414.00" x2="202.50" y2="428.60" stroke="#231f20" stroke-width="0.9" />
<text x="206.00" y="425.27" font-size="8.6" text-anchor="start" font-weight="normal" font-style="normal" fill="#231f20" style="stroke-width:0.28px">***</text>
<line x1="232.70" y1="433.50" x2="232.70" y2="449.60" stroke="#231f20" stroke-width="0.9" />
<text x="235.60" y="445.97" font-size="8.6" text-anchor="start" font-weight="normal" font-style="normal" fill="#231f20" style="stroke-width:0.28px">***</text>
<text x="259.80" y="377.80" font-size="11.2" text-anchor="start" font-weight="bold" font-style="normal" fill="#000" textLength="6.90" lengthAdjust="spacingAndGlyphs" style="stroke:#000;stroke-width:0.6px">H</text>
<text x="320.80" y="377.90" font-size="9.0" text-anchor="start" font-weight="bold" font-style="normal" fill="#231f20" textLength="40.80" lengthAdjust="spacingAndGlyphs" >OCI-Ly10</text>
<line x1="320.10" y1="379.40" x2="364.20" y2="379.40" stroke="#555" stroke-width="0.9" />
<line x1="299.00" y1="390.70" x2="299.00" y2="453.10" stroke="#2b2b2b" stroke-width="1.4" />
<line x1="298.30" y1="452.40" x2="385.30" y2="452.40" stroke="#2b2b2b" stroke-width="1.4" />
<line x1="295.70" y1="452.40" x2="299.00" y2="452.40" stroke="#2b2b2b" stroke-width="1.0" />
<text x="292.70" y="455.70" font-size="8.6" text-anchor="end" font-weight="normal" font-style="normal" fill="#231f20" textLength="4.33" lengthAdjust="spacingAndGlyphs" >0</text>
<line x1="295.70" y1="438.10" x2="299.00" y2="438.10" stroke="#2b2b2b" stroke-width="1.0" />
<text x="292.70" y="441.40" font-size="8.6" text-anchor="end" font-weight="normal" font-style="normal" fill="#231f20" textLength="12.99" lengthAdjust="spacingAndGlyphs" >500</text>
<line x1="295.70" y1="423.80" x2="299.00" y2="423.80" stroke="#2b2b2b" stroke-width="1.0" />
<text x="292.70" y="427.10" font-size="8.6" text-anchor="end" font-weight="normal" font-style="normal" fill="#231f20" textLength="17.32" lengthAdjust="spacingAndGlyphs" >1000</text>
<line x1="295.70" y1="409.50" x2="299.00" y2="409.50" stroke="#2b2b2b" stroke-width="1.0" />
<text x="292.70" y="412.80" font-size="8.6" text-anchor="end" font-weight="normal" font-style="normal" fill="#231f20" textLength="17.32" lengthAdjust="spacingAndGlyphs" >1500</text>
<line x1="295.70" y1="395.20" x2="299.00" y2="395.20" stroke="#2b2b2b" stroke-width="1.0" />
<text x="292.70" y="398.50" font-size="8.6" text-anchor="end" font-weight="normal" font-style="normal" fill="#231f20" textLength="17.32" lengthAdjust="spacingAndGlyphs" >2000</text>
<line x1="299.00" y1="452.40" x2="299.00" y2="455.40" stroke="#2b2b2b" stroke-width="1.0" />
<text x="299.00" y="464.70" font-size="8.6" text-anchor="middle" font-weight="normal" font-style="normal" fill="#231f20" textLength="4.33" lengthAdjust="spacingAndGlyphs" >0</text>
<line x1="312.45" y1="452.40" x2="312.45" y2="455.40" stroke="#2b2b2b" stroke-width="1.0" />
<text x="312.45" y="464.70" font-size="8.6" text-anchor="middle" font-weight="normal" font-style="normal" fill="#231f20" textLength="8.66" lengthAdjust="spacingAndGlyphs" >14</text>
<line x1="325.90" y1="452.40" x2="325.90" y2="455.40" stroke="#2b2b2b" stroke-width="1.0" />
<text x="325.90" y="464.70" font-size="8.6" text-anchor="middle" font-weight="normal" font-style="normal" fill="#231f20" textLength="8.66" lengthAdjust="spacingAndGlyphs" >28</text>
<line x1="339.35" y1="452.40" x2="339.35" y2="455.40" stroke="#2b2b2b" stroke-width="1.0" />
<text x="339.35" y="464.70" font-size="8.6" text-anchor="middle" font-weight="normal" font-style="normal" fill="#231f20" textLength="8.66" lengthAdjust="spacingAndGlyphs" >42</text>
<line x1="352.80" y1="452.40" x2="352.80" y2="455.40" stroke="#2b2b2b" stroke-width="1.0" />
<text x="352.80" y="464.70" font-size="8.6" text-anchor="middle" font-weight="normal" font-style="normal" fill="#231f20" textLength="8.66" lengthAdjust="spacingAndGlyphs" >56</text>
<line x1="366.25" y1="452.40" x2="366.25" y2="455.40" stroke="#2b2b2b" stroke-width="1.0" />
<text x="366.25" y="464.70" font-size="8.6" text-anchor="middle" font-weight="normal" font-style="normal" fill="#231f20" textLength="8.66" lengthAdjust="spacingAndGlyphs" >70</text>
<line x1="379.70" y1="452.40" x2="379.70" y2="455.40" stroke="#2b2b2b" stroke-width="1.0" />
<text x="379.70" y="464.70" font-size="8.6" text-anchor="middle" font-weight="normal" font-style="normal" fill="#231f20" textLength="8.66" lengthAdjust="spacingAndGlyphs" >84</text>
<text transform="translate(268.00,459.20) rotate(-90)" font-size="9.4" fill="#231f20" textLength="19.63" lengthAdjust="spacingAndGlyphs">Tumor</text>
<text transform="translate(268.00,437.67) rotate(-90)" font-size="9.4" fill="#231f20" textLength="25.83" lengthAdjust="spacingAndGlyphs">volume</text>
<text transform="translate(268.00,408.73) rotate(-90)" font-size="9.4" fill="#231f20" textLength="14.22" lengthAdjust="spacingAndGlyphs">(mm</text>
<text transform="translate(264.80,394.51) rotate(-90)" font-size="7.0" fill="#231f20" textLength="3.91" lengthAdjust="spacingAndGlyphs">3</text>
<text transform="translate(268.00,389.60) rotate(-90)" font-size="9.4" fill="#231f20" textLength="1.80" lengthAdjust="spacingAndGlyphs">)</text>
<text x="339.50" y="476.80" font-size="10.2" text-anchor="middle" font-weight="normal" font-style="normal" fill="#231f20" textLength="15.10" lengthAdjust="spacingAndGlyphs" >Days</text>
<polyline points="299.12,447.00 305.46,449.31 312.19,450.46 318.92,451.23 325.65,451.62 332.38,451.62 342.00,451.62 349.69,451.23 355.46,449.31 361.23,445.46 367.00,442.58 372.77,439.31 376.62,435.85" fill="none" stroke="#541e76" stroke-width="1.5" stroke-linejoin="round"/>
<path d="M296.90,448.30 L301.34,448.30 L299.12,445.15Z" fill="#541e76"/>
<path d="M303.24,450.60 L307.68,450.60 L305.46,447.46Z" fill="#541e76"/>
<path d="M309.97,451.76 L314.41,451.76 L312.19,448.61Z" fill="#541e76"/>
<path d="M316.70,452.53 L321.14,452.53 L318.92,449.38Z" fill="#541e76"/>
<path d="M323.43,452.91 L327.87,452.91 L325.65,449.77Z" fill="#541e76"/>
<path d="M330.16,452.91 L334.60,452.91 L332.38,449.77Z" fill="#541e76"/>
<path d="M339.78,452.91 L344.22,452.91 L342.00,449.77Z" fill="#541e76"/>
<path d="M347.47,452.53 L351.91,452.53 L349.69,449.38Z" fill="#541e76"/>
<path d="M353.24,450.60 L357.68,450.60 L355.46,447.46Z" fill="#541e76"/>
<path d="M359.01,446.76 L363.45,446.76 L361.23,443.61Z" fill="#541e76"/>
<path d="M364.78,443.87 L369.22,443.87 L367.00,440.73Z" fill="#541e76"/>
<path d="M370.55,440.60 L374.99,440.60 L372.77,437.46Z" fill="#541e76"/>
<path d="M374.40,437.14 L378.84,437.14 L376.62,434.00Z" fill="#541e76"/>
<line x1="339.12" y1="448.35" x2="339.12" y2="449.69" stroke="#2a2a2a" stroke-width="0.85" />
<line x1="337.82" y1="448.35" x2="340.42" y2="448.35" stroke="#2a2a2a" stroke-width="1.0" />
<line x1="344.88" y1="443.54" x2="344.88" y2="448.35" stroke="#2a2a2a" stroke-width="0.85" />
<line x1="343.58" y1="443.54" x2="346.18" y2="443.54" stroke="#2a2a2a" stroke-width="1.0" />
<line x1="348.73" y1="442.58" x2="348.73" y2="447.00" stroke="#2a2a2a" stroke-width="0.85" />
<line x1="347.43" y1="442.58" x2="350.03" y2="442.58" stroke="#2a2a2a" stroke-width="1.0" />
<line x1="353.54" y1="440.65" x2="353.54" y2="446.42" stroke="#2a2a2a" stroke-width="0.85" />
<line x1="352.24" y1="440.65" x2="354.84" y2="440.65" stroke="#2a2a2a" stroke-width="1.0" />
<line x1="358.35" y1="439.69" x2="358.35" y2="445.08" stroke="#2a2a2a" stroke-width="0.85" />
<line x1="357.05" y1="439.69" x2="359.65" y2="439.69" stroke="#2a2a2a" stroke-width="1.0" />
<line x1="363.15" y1="438.73" x2="363.15" y2="443.15" stroke="#2a2a2a" stroke-width="0.85" />
<line x1="361.85" y1="438.73" x2="364.45" y2="438.73" stroke="#2a2a2a" stroke-width="1.0" />
<line x1="366.04" y1="433.92" x2="366.04" y2="440.65" stroke="#2a2a2a" stroke-width="0.85" />
<line x1="364.74" y1="433.92" x2="367.34" y2="433.92" stroke="#2a2a2a" stroke-width="1.0" />
<line x1="368.92" y1="431.04" x2="368.92" y2="440.65" stroke="#2a2a2a" stroke-width="0.85" />
<line x1="367.62" y1="431.04" x2="370.22" y2="431.04" stroke="#2a2a2a" stroke-width="1.0" />
<line x1="372.77" y1="429.12" x2="372.77" y2="438.15" stroke="#2a2a2a" stroke-width="0.85" />
<line x1="371.47" y1="429.12" x2="374.07" y2="429.12" stroke="#2a2a2a" stroke-width="1.0" />
<line x1="376.62" y1="424.31" x2="376.62" y2="435.46" stroke="#2a2a2a" stroke-width="0.85" />
<line x1="375.32" y1="424.31" x2="377.92" y2="424.31" stroke="#2a2a2a" stroke-width="1.0" />
<polyline points="299.12,447.00 305.46,449.31 312.19,450.27 318.92,450.85 325.65,450.85 332.38,450.46 339.12,449.69 343.92,448.35 348.73,447.00 353.54,446.42 358.35,445.08 363.15,443.15 367.96,440.65 372.77,438.15 376.62,435.46" fill="none" stroke="#2dae40" stroke-width="1.5" stroke-linejoin="round"/>
<path d="M296.90,445.70 L301.34,445.70 L299.12,448.85Z" fill="#2dae40"/>
<path d="M303.24,448.01 L307.68,448.01 L305.46,451.16Z" fill="#2dae40"/>
<path d="M309.97,448.97 L314.41,448.97 L312.19,452.12Z" fill="#2dae40"/>
<path d="M316.70,449.55 L321.14,449.55 L318.92,452.70Z" fill="#2dae40"/>
<path d="M323.43,449.55 L327.87,449.55 L325.65,452.70Z" fill="#2dae40"/>
<path d="M330.16,449.17 L334.60,449.17 L332.38,452.31Z" fill="#2dae40"/>
<path d="M336.90,448.40 L341.34,448.40 L339.12,451.54Z" fill="#2dae40"/>
<path d="M341.70,447.05 L346.14,447.05 L343.92,450.20Z" fill="#2dae40"/>
<path d="M346.51,445.70 L350.95,445.70 L348.73,448.85Z" fill="#2dae40"/>
<path d="M351.32,445.13 L355.76,445.13 L353.54,448.27Z" fill="#2dae40"/>
<path d="M356.13,443.78 L360.57,443.78 L358.35,446.93Z" fill="#2dae40"/>
<path d="M360.93,441.86 L365.37,441.86 L363.15,445.00Z" fill="#2dae40"/>
<path d="M365.74,439.36 L370.18,439.36 L367.96,442.50Z" fill="#2dae40"/>
<path d="M370.55,436.86 L374.99,436.86 L372.77,440.00Z" fill="#2dae40"/>
<path d="M374.40,434.17 L378.84,434.17 L376.62,437.31Z" fill="#2dae40"/>
<line x1="368.92" y1="447.77" x2="368.92" y2="449.69" stroke="#2a2a2a" stroke-width="0.85" />
<line x1="367.62" y1="447.77" x2="370.22" y2="447.77" stroke="#2a2a2a" stroke-width="1.0" />
<line x1="372.77" y1="447.38" x2="372.77" y2="449.69" stroke="#2a2a2a" stroke-width="0.85" />
<line x1="371.47" y1="447.38" x2="374.07" y2="447.38" stroke="#2a2a2a" stroke-width="1.0" />
<line x1="376.62" y1="446.42" x2="376.62" y2="449.31" stroke="#2a2a2a" stroke-width="0.85" />
<line x1="375.32" y1="446.42" x2="377.92" y2="446.42" stroke="#2a2a2a" stroke-width="1.0" />
<polyline points="299.12,447.00 302.58,447.38 305.46,448.35 308.92,449.69 312.19,450.27 315.46,450.85 318.92,451.23 322.77,451.42 326.62,451.62 330.46,451.62 334.31,451.62 338.15,451.62 342.00,451.62 345.85,451.62 349.69,451.62 355.46,451.62 360.27,451.23 365.08,450.27 368.92,449.69 372.77,449.69 376.62,449.31" fill="none" stroke="#c8102e" stroke-width="1.5" stroke-linejoin="round"/>
<ellipse cx="299.12" cy="447.00" rx="2.04" ry="1.85" fill="#c8102e"/>
<ellipse cx="302.58" cy="447.38" rx="2.04" ry="1.85" fill="#c8102e"/>
<ellipse cx="305.46" cy="448.35" rx="2.04" ry="1.85" fill="#c8102e"/>
<ellipse cx="308.92" cy="449.69" rx="2.04" ry="1.85" fill="#c8102e"/>
<ellipse cx="312.19" cy="450.27" rx="2.04" ry="1.85" fill="#c8102e"/>
<ellipse cx="315.46" cy="450.85" rx="2.04" ry="1.85" fill="#c8102e"/>
<ellipse cx="318.92" cy="451.23" rx="2.04" ry="1.85" fill="#c8102e"/>
<ellipse cx="322.77" cy="451.42" rx="2.04" ry="1.85" fill="#c8102e"/>
<ellipse cx="326.62" cy="451.62" rx="2.04" ry="1.85" fill="#c8102e"/>
<ellipse cx="330.46" cy="451.62" rx="2.04" ry="1.85" fill="#c8102e"/>
<ellipse cx="334.31" cy="451.62" rx="2.04" ry="1.85" fill="#c8102e"/>
<ellipse cx="338.15" cy="451.62" rx="2.04" ry="1.85" fill="#c8102e"/>
<ellipse cx="342.00" cy="451.62" rx="2.04" ry="1.85" fill="#c8102e"/>
<ellipse cx="345.85" cy="451.62" rx="2.04" ry="1.85" fill="#c8102e"/>
<ellipse cx="349.69" cy="451.62" rx="2.04" ry="1.85" fill="#c8102e"/>
<ellipse cx="355.46" cy="451.62" rx="2.04" ry="1.85" fill="#c8102e"/>
<ellipse cx="360.27" cy="451.23" rx="2.04" ry="1.85" fill="#c8102e"/>
<ellipse cx="365.08" cy="450.27" rx="2.04" ry="1.85" fill="#c8102e"/>
<ellipse cx="368.92" cy="449.69" rx="2.04" ry="1.85" fill="#c8102e"/>
<ellipse cx="372.77" cy="449.69" rx="2.04" ry="1.85" fill="#c8102e"/>
<ellipse cx="376.62" cy="449.31" rx="2.04" ry="1.85" fill="#c8102e"/>
<line x1="312.19" y1="435.85" x2="312.19" y2="438.15" stroke="#2a2a2a" stroke-width="0.85" />
<line x1="310.89" y1="435.85" x2="313.49" y2="435.85" stroke="#2a2a2a" stroke-width="1.0" />
<line x1="315.46" y1="434.31" x2="315.46" y2="436.23" stroke="#2a2a2a" stroke-width="0.85" />
<line x1="314.16" y1="434.31" x2="316.76" y2="434.31" stroke="#2a2a2a" stroke-width="1.0" />
<line x1="318.92" y1="430.08" x2="318.92" y2="433.92" stroke="#2a2a2a" stroke-width="0.85" />
<line x1="317.62" y1="430.08" x2="320.22" y2="430.08" stroke="#2a2a2a" stroke-width="1.0" />
<line x1="322.38" y1="427.19" x2="322.38" y2="431.04" stroke="#2a2a2a" stroke-width="0.85" />
<line x1="321.08" y1="427.19" x2="323.68" y2="427.19" stroke="#2a2a2a" stroke-width="1.0" />
<line x1="326.23" y1="422.38" x2="326.23" y2="427.19" stroke="#2a2a2a" stroke-width="0.85" />
<line x1="324.93" y1="422.38" x2="327.53" y2="422.38" stroke="#2a2a2a" stroke-width="1.0" />
<line x1="328.92" y1="418.15" x2="328.92" y2="423.92" stroke="#2a2a2a" stroke-width="0.85" />
<line x1="327.62" y1="418.15" x2="330.22" y2="418.15" stroke="#2a2a2a" stroke-width="1.0" />
<line x1="332.38" y1="413.15" x2="332.38" y2="420.46" stroke="#2a2a2a" stroke-width="0.85" />
<line x1="331.08" y1="413.15" x2="333.68" y2="413.15" stroke="#2a2a2a" stroke-width="1.0" />
<line x1="336.62" y1="401.23" x2="336.62" y2="411.23" stroke="#2a2a2a" stroke-width="0.85" />
<line x1="335.32" y1="401.23" x2="337.92" y2="401.23" stroke="#2a2a2a" stroke-width="1.0" />
<polyline points="299.12,447.00 301.62,445.08 305.46,443.15 308.92,440.65 312.19,438.15 315.46,436.23 318.92,433.92 322.38,431.04 326.23,427.19 328.92,423.92 332.38,420.46 336.62,411.23" fill="none" stroke="#0f4b8a" stroke-width="1.5" stroke-linejoin="round"/>
<path d="M296.90,447.00 L299.12,445.15 L301.34,447.00 L299.12,448.85Z" fill="#0f4b8a"/>
<path d="M299.40,445.08 L301.62,443.23 L303.84,445.08 L301.62,446.93Z" fill="#0f4b8a"/>
<path d="M303.24,443.15 L305.46,441.30 L307.68,443.15 L305.46,445.00Z" fill="#0f4b8a"/>
<path d="M306.70,440.65 L308.92,438.80 L311.14,440.65 L308.92,442.50Z" fill="#0f4b8a"/>
<path d="M309.97,438.15 L312.19,436.30 L314.41,438.15 L312.19,440.00Z" fill="#0f4b8a"/>
<path d="M313.24,436.23 L315.46,434.38 L317.68,436.23 L315.46,438.08Z" fill="#0f4b8a"/>
<path d="M316.70,433.92 L318.92,432.07 L321.14,433.92 L318.92,435.77Z" fill="#0f4b8a"/>
<path d="M320.16,431.04 L322.38,429.19 L324.60,431.04 L322.38,432.89Z" fill="#0f4b8a"/>
<path d="M324.01,427.19 L326.23,425.34 L328.45,427.19 L326.23,429.04Z" fill="#0f4b8a"/>
<path d="M326.70,423.92 L328.92,422.07 L331.14,423.92 L328.92,425.77Z" fill="#0f4b8a"/>
<path d="M330.16,420.46 L332.38,418.61 L334.60,420.46 L332.38,422.31Z" fill="#0f4b8a"/>
<path d="M334.40,411.23 L336.62,409.38 L338.84,411.23 L336.62,413.08Z" fill="#0f4b8a"/>
<line x1="384.40" y1="410.50" x2="391.30" y2="410.50" stroke="#0f4b8a" stroke-width="1.5" />
<path d="M385.52,410.50 L387.80,408.60 L390.08,410.50 L387.80,412.40Z" fill="#0f4b8a"/>
<text x="394.80" y="413.10" font-size="7.5" text-anchor="start" font-weight="normal" font-style="normal" fill="#231f20" >Vehicle</text>
<line x1="384.40" y1="419.80" x2="391.30" y2="419.80" stroke="#c8102e" stroke-width="1.5" />
<ellipse cx="387.80" cy="419.80" rx="2.09" ry="1.90" fill="#c8102e"/>
<text x="394.80" y="422.40" font-size="7.5" text-anchor="start" font-weight="normal" font-style="normal" fill="#231f20" >TAK-981/Rituximab</text>
<line x1="384.40" y1="429.20" x2="391.30" y2="429.20" stroke="#2dae40" stroke-width="1.5" />
<path d="M385.52,427.87 L390.08,427.87 L387.80,431.10Z" fill="#2dae40"/>
<text x="394.80" y="431.80" font-size="7.5" text-anchor="start" font-weight="normal" font-style="normal" fill="#231f20" textLength="105.00" lengthAdjust="spacingAndGlyphs" >TAK-981/Rituximab/Clodronate</text>
<line x1="384.40" y1="438.10" x2="391.30" y2="438.10" stroke="#541e76" stroke-width="1.5" />
<path d="M385.52,439.43 L390.08,439.43 L387.80,436.20Z" fill="#541e76"/>
<text x="394.80" y="440.70" font-size="7.5" text-anchor="start" font-weight="normal" font-style="normal" fill="#231f20" >TAK-981/Rituximab/aASGM1</text>
<line x1="299.30" y1="491.20" x2="299.30" y2="560.00" stroke="#231f20" stroke-width="1.0" />
<line x1="299.30" y1="552.30" x2="395.20" y2="552.30" stroke="#231f20" stroke-width="1.0" />
<line x1="299.30" y1="559.45" x2="395.20" y2="559.45" stroke="#231f20" stroke-width="1.0" />
<line x1="296.10" y1="559.45" x2="299.30" y2="559.45" stroke="#231f20" stroke-width="0.9" />
<text x="292.30" y="562.15" font-size="7.6" text-anchor="end" font-weight="normal" font-style="normal" fill="#231f20" textLength="15.59" lengthAdjust="spacingAndGlyphs" >−100</text>
<line x1="296.10" y1="552.30" x2="299.30" y2="552.30" stroke="#231f20" stroke-width="0.9" />
<text x="292.30" y="555.00" font-size="7.6" text-anchor="end" font-weight="normal" font-style="normal" fill="#231f20" textLength="3.73" lengthAdjust="spacingAndGlyphs" >0</text>
<line x1="296.10" y1="545.15" x2="299.30" y2="545.15" stroke="#231f20" stroke-width="0.9" />
<text x="292.30" y="547.85" font-size="7.6" text-anchor="end" font-weight="normal" font-style="normal" fill="#231f20" textLength="11.19" lengthAdjust="spacingAndGlyphs" >100</text>
<line x1="296.10" y1="538.00" x2="299.30" y2="538.00" stroke="#231f20" stroke-width="0.9" />
<text x="292.30" y="540.70" font-size="7.6" text-anchor="end" font-weight="normal" font-style="normal" fill="#231f20" textLength="11.19" lengthAdjust="spacingAndGlyphs" >200</text>
<line x1="296.10" y1="530.85" x2="299.30" y2="530.85" stroke="#231f20" stroke-width="0.9" />
<text x="292.30" y="533.55" font-size="7.6" text-anchor="end" font-weight="normal" font-style="normal" fill="#231f20" textLength="11.19" lengthAdjust="spacingAndGlyphs" >300</text>
<line x1="296.10" y1="523.70" x2="299.30" y2="523.70" stroke="#231f20" stroke-width="0.9" />
<text x="292.30" y="526.40" font-size="7.6" text-anchor="end" font-weight="normal" font-style="normal" fill="#231f20" textLength="11.19" lengthAdjust="spacingAndGlyphs" >400</text>
<line x1="296.10" y1="516.55" x2="299.30" y2="516.55" stroke="#231f20" stroke-width="0.9" />
<text x="292.30" y="519.25" font-size="7.6" text-anchor="end" font-weight="normal" font-style="normal" fill="#231f20" textLength="11.19" lengthAdjust="spacingAndGlyphs" >500</text>
<line x1="296.10" y1="509.40" x2="299.30" y2="509.40" stroke="#231f20" stroke-width="0.9" />
<text x="292.30" y="512.10" font-size="7.6" text-anchor="end" font-weight="normal" font-style="normal" fill="#231f20" textLength="11.19" lengthAdjust="spacingAndGlyphs" >600</text>
<line x1="296.10" y1="502.25" x2="299.30" y2="502.25" stroke="#231f20" stroke-width="0.9" />
<text x="292.30" y="504.95" font-size="7.6" text-anchor="end" font-weight="normal" font-style="normal" fill="#231f20" textLength="11.19" lengthAdjust="spacingAndGlyphs" >700</text>
<line x1="296.10" y1="495.10" x2="299.30" y2="495.10" stroke="#231f20" stroke-width="0.9" />
<text x="292.30" y="497.80" font-size="7.6" text-anchor="end" font-weight="normal" font-style="normal" fill="#231f20" textLength="11.19" lengthAdjust="spacingAndGlyphs" >800</text>
<text transform="translate(272.60,572.90) rotate(-90)" font-size="9.6" fill="#231f20" textLength="22.20" lengthAdjust="spacingAndGlyphs">Change</text>
<text transform="translate(272.60,548.30) rotate(-90)" font-size="9.6" fill="#231f20" textLength="11.90" lengthAdjust="spacingAndGlyphs">from</text>
<text transform="translate(272.60,534.00) rotate(-90)" font-size="9.6" fill="#231f20" textLength="30.20" lengthAdjust="spacingAndGlyphs">baseline</text>
<text transform="translate(272.60,501.50) rotate(-90)" font-size="9.6" fill="#231f20" textLength="15.10" lengthAdjust="spacingAndGlyphs">(%)</text>
<rect x="300.35" y="504.32" width="1.3" height="47.98" fill="#1f5c98"/>
<rect x="303.15" y="514.69" width="1.3" height="37.61" fill="#1f5c98"/>
<rect x="305.95" y="509.83" width="1.3" height="42.47" fill="#1f5c98"/>
<rect x="308.65" y="496.67" width="1.3" height="55.63" fill="#1f5c98"/>
<rect x="311.45" y="500.89" width="1.3" height="51.41" fill="#1f5c98"/>
<rect x="314.15" y="496.03" width="1.3" height="56.27" fill="#1f5c98"/>
<rect x="316.95" y="529.78" width="1.3" height="22.52" fill="#1f5c98"/>
<rect x="319.65" y="502.68" width="1.3" height="49.62" fill="#1f5c98"/>
<rect x="324.55" y="552.30" width="1.3" height="0.57" fill="#c8102e"/>
<rect x="327.25" y="552.30" width="1.3" height="6.58" fill="#c8102e"/>
<rect x="332.75" y="552.30" width="1.3" height="6.58" fill="#c8102e"/>
<rect x="335.25" y="552.30" width="1.3" height="6.58" fill="#c8102e"/>
<rect x="338.35" y="552.30" width="1.3" height="6.58" fill="#c8102e"/>
<rect x="341.05" y="547.51" width="1.3" height="4.79" fill="#c8102e"/>
<rect x="348.75" y="524.77" width="1.3" height="27.53" fill="#2dae40"/>
<rect x="351.45" y="525.34" width="1.3" height="26.96" fill="#2dae40"/>
<rect x="354.25" y="539.07" width="1.3" height="13.23" fill="#2dae40"/>
<rect x="357.05" y="537.71" width="1.3" height="14.59" fill="#2dae40"/>
<rect x="359.75" y="544.08" width="1.3" height="8.22" fill="#2dae40"/>
<rect x="362.55" y="549.15" width="1.3" height="3.15" fill="#2dae40"/>
<rect x="365.25" y="526.20" width="1.3" height="26.10" fill="#2dae40"/>
<rect x="368.05" y="552.30" width="1.3" height="6.43" fill="#2dae40"/>
<rect x="372.75" y="522.98" width="1.3" height="29.32" fill="#541e76"/>
<rect x="375.45" y="552.30" width="1.3" height="6.43" fill="#541e76"/>
<rect x="378.25" y="546.01" width="1.3" height="6.29" fill="#541e76"/>
<rect x="381.05" y="548.72" width="1.3" height="3.58" fill="#541e76"/>
<rect x="383.75" y="536.78" width="1.3" height="15.52" fill="#541e76"/>
<rect x="386.65" y="525.34" width="1.3" height="26.96" fill="#541e76"/>
<rect x="389.45" y="533.57" width="1.3" height="18.73" fill="#541e76"/>
<rect x="392.15" y="536.07" width="1.3" height="16.23" fill="#541e76"/>
<line x1="322.80" y1="495.30" x2="322.80" y2="559.50" stroke="#333" stroke-width="0.8" stroke-dasharray="1,1.6"/>
<line x1="347.10" y1="495.30" x2="347.10" y2="559.50" stroke="#333" stroke-width="0.8" stroke-dasharray="1,1.6"/>
<line x1="371.40" y1="495.30" x2="371.40" y2="559.50" stroke="#333" stroke-width="0.8" stroke-dasharray="1,1.6"/>
<line x1="325.20" y1="545.30" x2="345.20" y2="545.30" stroke="#555" stroke-width="0.9" />
<line x1="334.80" y1="545.30" x2="334.80" y2="505.00" stroke="#555" stroke-width="0.9" />
<line x1="334.80" y1="505.00" x2="382.80" y2="505.00" stroke="#555" stroke-width="0.9" />
<line x1="382.80" y1="505.00" x2="382.80" y2="519.50" stroke="#555" stroke-width="0.9" />
<line x1="372.80" y1="519.50" x2="393.10" y2="519.50" stroke="#555" stroke-width="0.9" />
<line x1="334.80" y1="512.60" x2="359.30" y2="512.60" stroke="#555" stroke-width="0.9" />
<line x1="359.30" y1="512.60" x2="359.30" y2="522.20" stroke="#555" stroke-width="0.9" />
<line x1="349.00" y1="522.20" x2="369.00" y2="522.20" stroke="#555" stroke-width="0.9" />
<text x="344.10" y="514.27" font-size="8.6" text-anchor="start" font-weight="normal" font-style="normal" fill="#231f20" style="stroke-width:0.28px">**</text>
<text x="357.70" y="505.77" font-size="8.6" text-anchor="start" font-weight="normal" font-style="normal" fill="#231f20" style="stroke-width:0.28px">**</text>
<text x="311.10" y="569.90" font-size="8.2" text-anchor="middle" font-weight="normal" font-style="normal" fill="#231f20" >0/8</text>
<text x="334.90" y="569.90" font-size="8.2" text-anchor="middle" font-weight="normal" font-style="normal" fill="#231f20" >4/8</text>
<text x="359.80" y="569.90" font-size="8.2" text-anchor="middle" font-weight="normal" font-style="normal" fill="#231f20" >1/8</text>
<text x="383.30" y="569.90" font-size="8.2" text-anchor="middle" font-weight="normal" font-style="normal" fill="#231f20" >1/8</text>
<text x="403.30" y="569.90" font-size="8.2" text-anchor="middle" font-weight="normal" font-style="normal" fill="#231f20" >CR</text>
<rect x="400.9" y="495.00" width="4.8" height="4.8" fill="#0f4b8a"/>
<rect x="400.9" y="513.90" width="4.8" height="4.8" fill="#c8102e"/>
<rect x="400.9" y="532.80" width="4.8" height="4.8" fill="#2dae40"/>
<rect x="400.9" y="551.00" width="4.8" height="4.8" fill="#541e76"/>
<text x="408.80" y="495.60" font-size="7.6" text-anchor="start" font-weight="normal" font-style="normal" fill="#231f20" >Vehicle</text>
<text x="408.80" y="504.20" font-size="7.6" text-anchor="start" font-weight="normal" font-style="normal" fill="#231f20" >(Day 37)</text>
<text x="408.80" y="514.30" font-size="7.6" text-anchor="start" font-weight="normal" font-style="normal" fill="#231f20" >TAK-981/Rituximab</text>
<text x="408.80" y="523.00" font-size="7.6" text-anchor="start" font-weight="normal" font-style="normal" fill="#231f20" >(Day 81)</text>
<text x="408.80" y="533.90" font-size="7.6" text-anchor="start" font-weight="normal" font-style="normal" fill="#231f20" >TAK-981/Rituximab/Clodronate</text>
<text x="408.80" y="542.10" font-size="7.6" text-anchor="start" font-weight="normal" font-style="normal" fill="#231f20" >(Day 81)</text>
<text x="408.80" y="552.40" font-size="7.6" text-anchor="start" font-weight="normal" font-style="normal" fill="#231f20" >TAK-981/Rituximab/aASGM1</text>
<text x="408.80" y="560.40" font-size="7.6" text-anchor="start" font-weight="normal" font-style="normal" fill="#231f20" >(Day 81)</text>
</svg></body></html>
